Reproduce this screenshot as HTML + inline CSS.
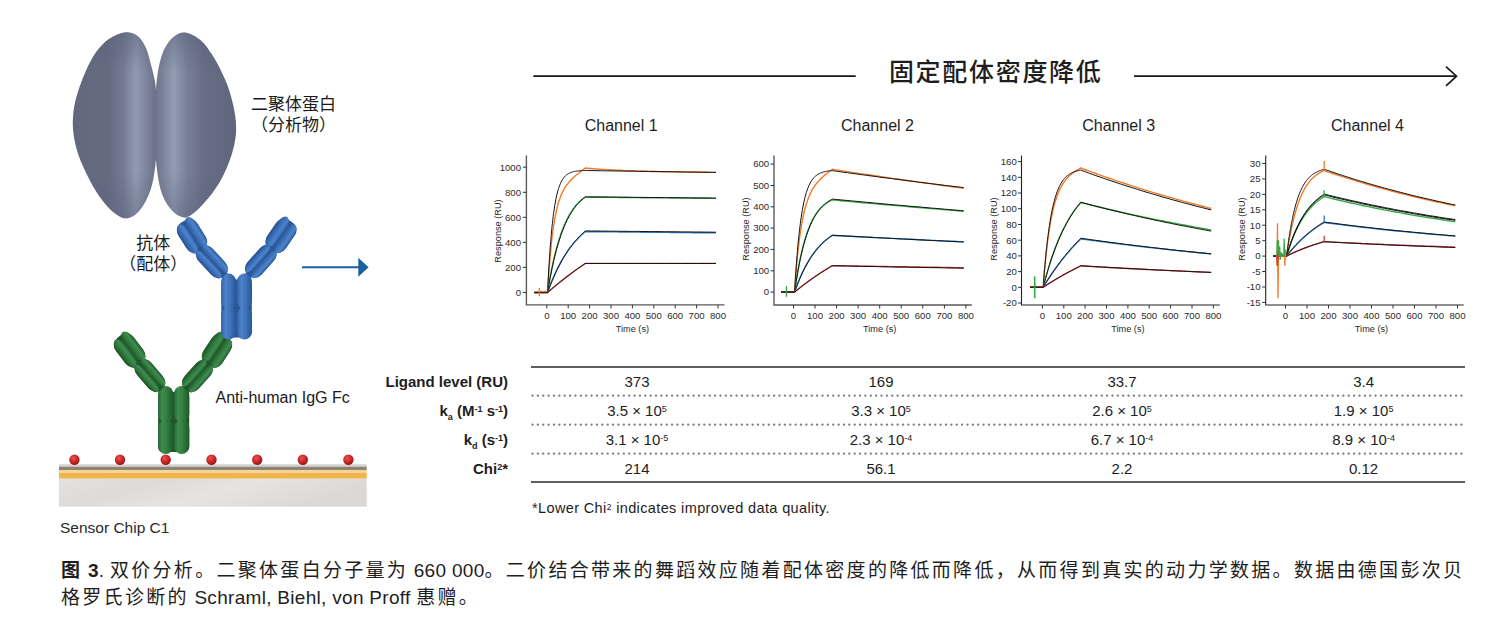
<!DOCTYPE html>
<html><head><meta charset="utf-8">
<style>
html,body{margin:0;padding:0;background:#fff;}
body{width:1509px;height:628px;overflow:hidden;position:relative;font-family:"Liberation Sans","Noto Sans CJK SC",sans-serif;color:#1e1e1e;}
.a{position:absolute;white-space:nowrap;}
svg text{font-family:"Liberation Sans","Noto Sans CJK SC",sans-serif;}
.tk{font-size:9.6px;fill:#2a2a2a;} .tl{font-size:9.2px;fill:#2a2a2a;}
.cn{font-size:16px;fill:#1e1e1e;}
.cap{font-size:19px;line-height:27.3px;letter-spacing:0.3px;} .cap .c{letter-spacing:2.3px;}
.tv{font-size:15px;line-height:20px;} sup{font-size:9px;vertical-align:top;position:relative;top:-2px;} sub{font-size:9px;}
.cj{font-family:"Liberation Sans","Noto Sans CJK SC",sans-serif;}
</style></head><body>
<svg class="a" style="left:0;top:0" width="1509" height="628" viewBox="0 0 1509 628">
<defs>
<linearGradient id="vsh" x1="0" y1="32" x2="0" y2="218" gradientUnits="userSpaceOnUse">
  <stop offset="0" stop-color="#5a6078" stop-opacity="0.55"/>
  <stop offset="0.22" stop-color="#5a6078" stop-opacity="0"/>
  <stop offset="0.75" stop-color="#5a6078" stop-opacity="0"/>
  <stop offset="1" stop-color="#5a6078" stop-opacity="0.45"/>
</linearGradient>
<linearGradient id="lobeL" x1="73" y1="0" x2="156" y2="0" gradientUnits="userSpaceOnUse">
  <stop offset="0" stop-color="#62687e"/>
  <stop offset="0.42" stop-color="#656b81"/>
  <stop offset="0.6" stop-color="#737a91"/>
  <stop offset="0.76" stop-color="#909cb4"/>
  <stop offset="0.9" stop-color="#7a8299"/>
  <stop offset="1" stop-color="#686f86"/>
</linearGradient>
<linearGradient id="lobeR" x1="156" y1="0" x2="237" y2="0" gradientUnits="userSpaceOnUse">
  <stop offset="0" stop-color="#6e758b"/>
  <stop offset="0.08" stop-color="#7b839a"/>
  <stop offset="0.22" stop-color="#919db5"/>
  <stop offset="0.4" stop-color="#767e95"/>
  <stop offset="0.6" stop-color="#676d84"/>
  <stop offset="1" stop-color="#5f657a"/>
</linearGradient>
<linearGradient id="bh" x1="0" y1="0" x2="0" y2="1">
  <stop offset="0" stop-color="#2a569a"/>
  <stop offset="0.35" stop-color="#4a82c8"/>
  <stop offset="0.65" stop-color="#3c72ba"/>
  <stop offset="1" stop-color="#26508f"/>
</linearGradient>
<linearGradient id="bv" x1="0" y1="0" x2="1" y2="0">
  <stop offset="0" stop-color="#2a569a"/>
  <stop offset="0.35" stop-color="#4a82c8"/>
  <stop offset="0.65" stop-color="#3c72ba"/>
  <stop offset="1" stop-color="#26508f"/>
</linearGradient>
<linearGradient id="gh" x1="0" y1="0" x2="0" y2="1">
  <stop offset="0" stop-color="#1f5a2c"/>
  <stop offset="0.35" stop-color="#3b8a4a"/>
  <stop offset="0.65" stop-color="#2f7a3e"/>
  <stop offset="1" stop-color="#1c5228"/>
</linearGradient>
<linearGradient id="gv" x1="0" y1="0" x2="1" y2="0">
  <stop offset="0" stop-color="#1f5a2c"/>
  <stop offset="0.35" stop-color="#3b8a4a"/>
  <stop offset="0.65" stop-color="#2f7a3e"/>
  <stop offset="1" stop-color="#1c5228"/>
</linearGradient>
<radialGradient id="rd" cx="0.4" cy="0.35" r="0.65">
  <stop offset="0" stop-color="#e85454"/>
  <stop offset="0.6" stop-color="#c82626"/>
  <stop offset="1" stop-color="#9a1616"/>
</radialGradient>
<linearGradient id="chipb" x1="0" y1="0" x2="1" y2="0.3">
  <stop offset="0" stop-color="#e4e1df"/>
  <stop offset="0.3" stop-color="#dedad8"/>
  <stop offset="0.6" stop-color="#e6e3e1"/>
  <stop offset="1" stop-color="#dcd8d6"/>
</linearGradient>
</defs>
<!-- dimer -->
<path d="M124.80,32.40 C129.07,32.09 133.62,33.23 137.00,35.50 C140.61,37.92 143.29,42.64 145.50,47.00 C147.89,51.72 148.97,57.41 150.50,63.00 C152.16,69.03 153.98,75.72 155.00,82.00 C155.98,88.05 156.30,93.84 156.60,100.00 C156.92,106.48 156.77,113.33 156.80,120.00 C156.83,126.67 156.94,133.51 156.80,140.00 C156.66,146.16 156.48,152.09 156.00,158.00 C155.53,163.76 154.93,169.63 154.00,175.00 C153.15,179.92 152.20,184.62 150.80,189.00 C149.49,193.08 147.86,196.92 146.00,200.50 C144.23,203.90 142.29,207.29 140.00,210.00 C137.91,212.48 135.64,214.92 133.00,216.30 C130.45,217.63 127.35,218.64 124.50,218.30 C121.35,217.93 117.90,215.53 115.00,213.50 C112.06,211.44 109.53,208.75 107.00,206.00 C104.35,203.11 101.94,199.99 99.50,196.50 C96.76,192.58 94.04,188.08 91.50,183.50 C88.79,178.62 86.10,173.11 83.80,168.00 C81.63,163.18 79.59,158.56 78.00,153.70 C76.43,148.89 75.16,144.04 74.30,139.00 C73.41,133.81 72.80,128.49 72.80,123.00 C72.80,117.18 73.40,110.95 74.50,105.00 C75.62,98.95 77.51,92.90 79.50,87.00 C81.50,81.07 83.75,75.29 86.50,69.50 C89.38,63.45 92.56,56.72 96.50,51.50 C100.15,46.66 104.24,42.19 109.00,39.00 C113.69,35.86 119.82,32.77 124.80,32.40 Z" fill="url(#lobeL)"/>
<path d="M184.50,32.60 C189.32,32.75 195.73,36.48 200.30,40.10 C205.11,43.92 208.90,50.10 212.40,55.30 C215.71,60.21 218.34,65.31 220.90,70.40 C223.40,75.37 225.72,80.41 227.60,85.50 C229.44,90.48 230.83,95.53 232.10,100.60 C233.36,105.63 234.53,110.72 235.20,115.80 C235.86,120.82 236.30,125.88 236.10,130.90 C235.90,135.94 235.09,141.02 234.00,146.00 C232.90,151.05 231.31,156.05 229.50,161.00 C227.65,166.05 225.50,171.17 223.00,176.00 C220.50,180.84 217.65,185.52 214.50,190.00 C211.32,194.52 207.47,199.15 204.00,203.00 C200.97,206.36 198.22,209.55 195.00,212.00 C192.02,214.27 188.65,217.05 185.50,217.40 C182.66,217.71 179.58,216.33 177.00,214.80 C174.20,213.14 171.71,210.29 169.50,207.50 C167.17,204.56 165.14,201.12 163.50,197.50 C161.76,193.66 160.56,189.40 159.50,185.00 C158.35,180.27 157.65,175.01 157.00,170.00 C156.35,165.01 155.92,160.36 155.60,155.00 C155.23,148.82 155.17,141.67 155.10,135.00 C155.03,128.33 155.10,121.67 155.20,115.00 C155.30,108.33 155.34,101.58 155.70,95.00 C156.05,88.58 156.44,82.04 157.30,76.00 C158.09,70.41 159.05,65.00 160.50,60.00 C161.84,55.38 163.26,50.90 165.50,47.00 C167.64,43.26 170.25,39.41 173.50,37.00 C176.63,34.68 180.53,32.48 184.50,32.60 Z" fill="url(#lobeR)"/>
<path d="M124.80,32.40 C129.07,32.09 133.62,33.23 137.00,35.50 C140.61,37.92 143.29,42.64 145.50,47.00 C147.89,51.72 148.97,57.41 150.50,63.00 C152.16,69.03 153.98,75.72 155.00,82.00 C155.98,88.05 156.30,93.84 156.60,100.00 C156.92,106.48 156.77,113.33 156.80,120.00 C156.83,126.67 156.94,133.51 156.80,140.00 C156.66,146.16 156.48,152.09 156.00,158.00 C155.53,163.76 154.93,169.63 154.00,175.00 C153.15,179.92 152.20,184.62 150.80,189.00 C149.49,193.08 147.86,196.92 146.00,200.50 C144.23,203.90 142.29,207.29 140.00,210.00 C137.91,212.48 135.64,214.92 133.00,216.30 C130.45,217.63 127.35,218.64 124.50,218.30 C121.35,217.93 117.90,215.53 115.00,213.50 C112.06,211.44 109.53,208.75 107.00,206.00 C104.35,203.11 101.94,199.99 99.50,196.50 C96.76,192.58 94.04,188.08 91.50,183.50 C88.79,178.62 86.10,173.11 83.80,168.00 C81.63,163.18 79.59,158.56 78.00,153.70 C76.43,148.89 75.16,144.04 74.30,139.00 C73.41,133.81 72.80,128.49 72.80,123.00 C72.80,117.18 73.40,110.95 74.50,105.00 C75.62,98.95 77.51,92.90 79.50,87.00 C81.50,81.07 83.75,75.29 86.50,69.50 C89.38,63.45 92.56,56.72 96.50,51.50 C100.15,46.66 104.24,42.19 109.00,39.00 C113.69,35.86 119.82,32.77 124.80,32.40 Z" fill="url(#vsh)"/>
<path d="M184.50,32.60 C189.32,32.75 195.73,36.48 200.30,40.10 C205.11,43.92 208.90,50.10 212.40,55.30 C215.71,60.21 218.34,65.31 220.90,70.40 C223.40,75.37 225.72,80.41 227.60,85.50 C229.44,90.48 230.83,95.53 232.10,100.60 C233.36,105.63 234.53,110.72 235.20,115.80 C235.86,120.82 236.30,125.88 236.10,130.90 C235.90,135.94 235.09,141.02 234.00,146.00 C232.90,151.05 231.31,156.05 229.50,161.00 C227.65,166.05 225.50,171.17 223.00,176.00 C220.50,180.84 217.65,185.52 214.50,190.00 C211.32,194.52 207.47,199.15 204.00,203.00 C200.97,206.36 198.22,209.55 195.00,212.00 C192.02,214.27 188.65,217.05 185.50,217.40 C182.66,217.71 179.58,216.33 177.00,214.80 C174.20,213.14 171.71,210.29 169.50,207.50 C167.17,204.56 165.14,201.12 163.50,197.50 C161.76,193.66 160.56,189.40 159.50,185.00 C158.35,180.27 157.65,175.01 157.00,170.00 C156.35,165.01 155.92,160.36 155.60,155.00 C155.23,148.82 155.17,141.67 155.10,135.00 C155.03,128.33 155.10,121.67 155.20,115.00 C155.30,108.33 155.34,101.58 155.70,95.00 C156.05,88.58 156.44,82.04 157.30,76.00 C158.09,70.41 159.05,65.00 160.50,60.00 C161.84,55.38 163.26,50.90 165.50,47.00 C167.64,43.26 170.25,39.41 173.50,37.00 C176.63,34.68 180.53,32.48 184.50,32.60 Z" fill="url(#vsh)"/>
<!-- chip -->
<rect x="59" y="464.3" width="307.7" height="2.4" fill="#d4d2d0"/>
<rect x="59" y="466.7" width="307.7" height="3.3" fill="#8e8474"/>
<rect x="59" y="470" width="307.7" height="2.9" fill="#f6d49a"/>
<rect x="59" y="472.9" width="307.7" height="5.8" fill="#f0b448"/>
<rect x="59" y="478.7" width="307.7" height="28" fill="url(#chipb)"/>
<!-- antibodies -->
<linearGradient id="gah" x1="0" y1="0" x2="0" y2="1"><stop offset="0" stop-color="#2a6637"/><stop offset="0.3" stop-color="#3e8d4d"/><stop offset="0.62" stop-color="#2f7a3e"/><stop offset="1" stop-color="#205829"/></linearGradient>
<linearGradient id="gav" x1="0" y1="0" x2="1" y2="0"><stop offset="0" stop-color="#2a6637"/><stop offset="0.3" stop-color="#3e8d4d"/><stop offset="0.62" stop-color="#2f7a3e"/><stop offset="1" stop-color="#205829"/></linearGradient>
<line x1="139.2" y1="363.1" x2="164.0" y2="392.0" stroke="#21562b" stroke-width="7" stroke-linecap="round"/>
<line x1="208.5" y1="363.7" x2="183.0" y2="392.0" stroke="#21562b" stroke-width="7" stroke-linecap="round"/>
<rect x="158.1" y="392" width="31.099999999999994" height="60.10000000000002" rx="5" fill="#21562b"/>
<rect x="158.0" y="386.0" width="15.2" height="36.0" rx="7.6" ry="8" fill="url(#gav)"/>
<rect x="158.0" y="420.0" width="15.2" height="34.1" rx="7.6" ry="8" fill="url(#gav)"/>
<rect x="174.0" y="386.0" width="15.3" height="36.0" rx="7.6" ry="8" fill="url(#gav)"/>
<rect x="174.0" y="420.0" width="15.3" height="34.1" rx="7.6" ry="8" fill="url(#gav)"/>
<g transform="translate(120.0,337.7) rotate(52.9)">
<rect x="-1.5" y="-11.3" width="34.8" height="22.6" rx="9.5" ry="8.6" fill="#21562b"/>
<rect x="-3.0" y="-10.6" width="35.8" height="10.3" rx="9.5" ry="5.4" fill="url(#gah)"/>
<rect x="-1.0" y="0.2" width="33.8" height="10.3" rx="9.5" ry="5.4" fill="url(#gah)"/>
</g>
<g transform="translate(139.2,363.1) rotate(49.4)">
<rect x="-1.5" y="-9.5" width="35.8" height="19.0" rx="9.5" ry="7.2" fill="#21562b"/>
<rect x="-1.0" y="-8.8" width="34.8" height="8.5" rx="9.5" ry="4.5" fill="url(#gah)"/>
<rect x="-1.0" y="0.2" width="34.8" height="8.5" rx="9.5" ry="4.5" fill="url(#gah)"/>
</g>
<g transform="translate(225.5,337.7) rotate(123.2)">
<rect x="-1.5" y="-11.3" width="34.1" height="22.6" rx="9.5" ry="8.6" fill="#21562b"/>
<rect x="-1.0" y="-10.6" width="33.1" height="10.3" rx="9.5" ry="5.4" fill="url(#gah)"/>
<rect x="-3.0" y="0.2" width="35.1" height="10.3" rx="9.5" ry="5.4" fill="url(#gah)"/>
</g>
<g transform="translate(208.5,363.7) rotate(132.0)">
<rect x="-1.5" y="-9.5" width="35.8" height="19.0" rx="9.5" ry="7.2" fill="#21562b"/>
<rect x="-1.0" y="-8.8" width="34.8" height="8.5" rx="9.5" ry="4.5" fill="url(#gah)"/>
<rect x="-1.0" y="0.2" width="34.8" height="8.5" rx="9.5" ry="4.5" fill="url(#gah)"/>
</g>
<linearGradient id="bah" x1="0" y1="0" x2="0" y2="1"><stop offset="0" stop-color="#3262a8"/><stop offset="0.3" stop-color="#4c83ca"/><stop offset="0.62" stop-color="#3c71b9"/><stop offset="1" stop-color="#2b5697"/></linearGradient>
<linearGradient id="bav" x1="0" y1="0" x2="1" y2="0"><stop offset="0" stop-color="#3262a8"/><stop offset="0.3" stop-color="#4c83ca"/><stop offset="0.62" stop-color="#3c71b9"/><stop offset="1" stop-color="#2b5697"/></linearGradient>
<line x1="200.4" y1="249.3" x2="227.0" y2="278.0" stroke="#2b5696" stroke-width="7" stroke-linecap="round"/>
<line x1="272.0" y1="248.8" x2="246.0" y2="278.0" stroke="#2b5696" stroke-width="7" stroke-linecap="round"/>
<rect x="221.3" y="279.6" width="30.5" height="57.89999999999998" rx="5" fill="#2b5696"/>
<rect x="221.2" y="273.6" width="14.9" height="35.4" rx="7.4" ry="8" fill="url(#bav)"/>
<rect x="221.2" y="307.0" width="14.9" height="32.5" rx="7.4" ry="8" fill="url(#bav)"/>
<rect x="236.9" y="273.6" width="15.0" height="35.4" rx="7.5" ry="8" fill="url(#bav)"/>
<rect x="236.9" y="307.0" width="15.0" height="32.5" rx="7.5" ry="8" fill="url(#bav)"/>
<g transform="translate(183.7,222.9) rotate(57.7)">
<rect x="-1.5" y="-11.3" width="34.2" height="22.6" rx="9.5" ry="8.6" fill="#2b5696"/>
<rect x="-3.0" y="-10.6" width="35.2" height="10.3" rx="9.5" ry="5.4" fill="url(#bah)"/>
<rect x="-1.0" y="0.2" width="33.2" height="10.3" rx="9.5" ry="5.4" fill="url(#bah)"/>
</g>
<g transform="translate(200.4,249.3) rotate(47.2)">
<rect x="-1.5" y="-9.5" width="36.7" height="19.0" rx="9.5" ry="7.2" fill="#2b5696"/>
<rect x="-1.0" y="-8.8" width="35.7" height="8.5" rx="9.5" ry="4.5" fill="url(#bah)"/>
<rect x="-1.0" y="0.2" width="35.7" height="8.5" rx="9.5" ry="4.5" fill="url(#bah)"/>
</g>
<g transform="translate(290.0,222.6) rotate(124.5)">
<rect x="-1.5" y="-11.3" width="34.8" height="22.6" rx="9.5" ry="8.6" fill="#2b5696"/>
<rect x="-1.0" y="-10.6" width="33.8" height="10.3" rx="9.5" ry="5.4" fill="url(#bah)"/>
<rect x="-3.0" y="0.2" width="35.8" height="10.3" rx="9.5" ry="5.4" fill="url(#bah)"/>
</g>
<g transform="translate(272.0,248.8) rotate(131.7)">
<rect x="-1.5" y="-9.5" width="36.6" height="19.0" rx="9.5" ry="7.2" fill="#2b5696"/>
<rect x="-1.0" y="-8.8" width="35.6" height="8.5" rx="9.5" ry="4.5" fill="url(#bah)"/>
<rect x="-1.0" y="0.2" width="35.6" height="8.5" rx="9.5" ry="4.5" fill="url(#bah)"/>
</g>
<!-- red dots -->
<g fill="url(#rd)">
<circle cx="74.4" cy="459.7" r="5.2"/><circle cx="120" cy="459.7" r="5.2"/><circle cx="165.7" cy="459.7" r="5.2"/>
<circle cx="211.5" cy="459.7" r="5.2"/><circle cx="257.2" cy="459.7" r="5.2"/><circle cx="302.8" cy="459.7" r="5.2"/>
<circle cx="348.4" cy="459.7" r="5.2"/>
</g>
<!-- blue arrow -->
<line x1="302" y1="267.3" x2="359" y2="267.3" stroke="#1b5f9f" stroke-width="1.9"/>
<polygon points="358.3,257.8 368.6,267.3 358.3,276.8" fill="#1b5f9f"/>
<!-- labels -->
<text x="293.4" y="109.5" text-anchor="middle" style="font-size:17px;fill:#1a1a1a;font-family:'Noto Sans CJK SC',sans-serif">二聚体蛋白</text>
<text x="293.4" y="130.5" text-anchor="middle" style="font-size:17px;fill:#1a1a1a;font-family:'Noto Sans CJK SC',sans-serif">（分析物）</text>
<text x="153.2" y="248.5" text-anchor="middle" style="font-size:17px;fill:#1a1a1a;font-family:'Noto Sans CJK SC',sans-serif">抗体</text>
<text x="153.2" y="269.5" text-anchor="middle" style="font-size:17px;fill:#1a1a1a;font-family:'Noto Sans CJK SC',sans-serif">（配体）</text>
<text x="215.5" y="402.5" style="font-size:16px;fill:#1a1a1a">Anti-human IgG Fc</text>
<text x="60" y="532.6" style="font-size:15.5px;fill:#2a2a2a">Sensor Chip C1</text>

<!-- header arrow -->
<line x1="534" y1="76.2" x2="855" y2="76.2" stroke="#1a1a1a" stroke-width="1.7" stroke-linecap="round"/>
<line x1="1134" y1="76.2" x2="1456" y2="76.2" stroke="#1a1a1a" stroke-width="1.7"/>
<polyline points="1446,66.6 1456.5,76.2 1446,85.8" fill="none" stroke="#1a1a1a" stroke-width="1.7"/>
<text x="995.7" y="81" text-anchor="middle" style="font-family:'Noto Sans CJK SC',sans-serif;font-size:25px;letter-spacing:1.7px;font-weight:500;fill:#1e1e1e;">固定配体密度降低</text>
<g fill="#8a8a8a"><line x1="532.5" y1="395.6" x2="1464.5" y2="395.6" stroke="#7e7e7e" stroke-width="2.4" stroke-linecap="round" stroke-dasharray="0 5.37"/>
<line x1="532.5" y1="424.6" x2="1464.5" y2="424.6" stroke="#7e7e7e" stroke-width="2.4" stroke-linecap="round" stroke-dasharray="0 5.37"/>
<line x1="532.5" y1="453.6" x2="1464.5" y2="453.6" stroke="#7e7e7e" stroke-width="2.4" stroke-linecap="round" stroke-dasharray="0 5.37"/></g>
<text x="621.2" y="130.9" text-anchor="middle" class="cn">Channel 1</text>
<text x="877.5" y="130.9" text-anchor="middle" class="cn">Channel 2</text>
<text x="1118.7" y="130.9" text-anchor="middle" class="cn">Channel 3</text>
<text x="1367.5" y="130.9" text-anchor="middle" class="cn">Channel 4</text>
<path d="M534.4,292.5 L547.5,292.5 L547.7,290.7 L547.9,287.2 L548.1,283.7 L548.3,280.4 L548.5,277.2 L548.7,274.2 L548.9,271.2 L549.2,268.3 L549.4,265.5 L549.6,262.8 L549.8,260.2 L550.0,257.7 L550.2,255.3 L550.4,252.9 L550.7,250.7 L550.9,248.5 L551.1,246.3 L551.3,244.3 L551.5,242.3 L551.7,240.4 L551.9,238.5 L552.1,236.7 L552.4,234.9 L552.6,233.3 L552.8,231.6 L553.0,230.0 L553.2,228.5 L553.4,227.0 L553.6,225.6 L553.9,224.2 L554.1,222.9 L554.7,219.1 L555.4,215.6 L556.0,212.4 L556.6,209.6 L557.3,206.9 L557.9,204.5 L558.6,202.3 L559.2,200.3 L559.9,198.4 L560.5,196.7 L561.1,195.1 L561.8,193.6 L562.4,192.2 L563.1,190.9 L563.7,189.7 L564.3,188.6 L565.0,187.5 L565.6,186.6 L566.3,185.6 L566.9,184.7 L567.6,183.9 L568.2,183.1 L568.8,182.3 L569.5,181.5 L570.1,180.8 L570.8,180.1 L571.4,179.5 L572.1,178.8 L572.7,178.2 L573.3,177.6 L574.0,177.0 L574.6,176.4 L575.3,175.9 L575.9,175.3 L576.5,174.8 L577.2,174.3 L577.8,173.7 L578.5,173.2 L579.1,172.7 L579.8,172.2 L580.4,171.7 L581.0,171.2 L581.7,170.7 L582.3,170.2 L583.0,169.8 L583.6,169.3 L584.2,168.8 L584.9,168.4 L585.3,168.0 L587.5,168.2 L590.7,168.5 L593.9,168.8 L597.1,169.0 L600.3,169.2 L603.5,169.4 L606.7,169.6 L609.9,169.8 L613.1,170.0 L616.3,170.2 L619.6,170.3 L622.8,170.5 L626.0,170.6 L629.2,170.7 L632.4,170.8 L635.6,171.0 L638.8,171.1 L642.0,171.2 L645.2,171.3 L648.4,171.4 L651.7,171.5 L654.9,171.5 L658.1,171.6 L661.3,171.7 L664.5,171.7 L667.7,171.8 L670.9,171.9 L674.1,171.9 L677.3,172.0 L680.5,172.0 L683.8,172.1 L687.0,172.1 L690.2,172.2 L693.4,172.2 L696.6,172.2 L699.8,172.3 L703.0,172.3 L706.2,172.3 L709.4,172.4 L712.6,172.4 L715.9,172.4 L715.9,172.4" fill="none" stroke="#f07a2a" stroke-width="1.4" stroke-linejoin="round"/>
<path d="M534.4,292.5 L547.5,292.5 L547.7,290.3 L547.9,285.9 L548.1,281.7 L548.3,277.7 L548.5,273.8 L548.7,270.0 L548.9,266.4 L549.2,262.9 L549.4,259.5 L549.6,256.3 L549.8,253.2 L550.0,250.2 L550.2,247.3 L550.4,244.5 L550.7,241.8 L550.9,239.2 L551.1,236.7 L551.3,234.3 L551.5,231.9 L551.7,229.7 L551.9,227.6 L552.1,225.5 L552.4,223.5 L552.6,221.5 L552.8,219.7 L553.0,217.9 L553.2,216.2 L553.4,214.5 L553.6,212.9 L553.9,211.3 L554.1,209.9 L554.7,205.7 L555.4,202.0 L556.0,198.7 L556.6,195.7 L557.3,193.0 L557.9,190.6 L558.6,188.5 L559.2,186.6 L559.9,184.9 L560.5,183.4 L561.1,182.0 L561.8,180.8 L562.4,179.7 L563.1,178.7 L563.7,177.8 L564.3,177.0 L565.0,176.3 L565.6,175.7 L566.3,175.1 L566.9,174.6 L567.6,174.2 L568.2,173.8 L568.8,173.4 L569.5,173.1 L570.1,172.8 L570.8,172.5 L571.4,172.3 L572.1,172.1 L572.7,171.9 L573.3,171.7 L574.0,171.6 L574.6,171.5 L575.3,171.3 L575.9,171.2 L576.5,171.1 L577.2,171.1 L577.8,171.0 L578.5,170.9 L579.1,170.9 L579.8,170.8 L580.4,170.7 L581.0,170.7 L581.7,170.7 L582.3,170.6 L583.0,170.6 L583.6,170.6 L584.2,170.5 L584.9,170.5 L585.3,170.5 L587.5,170.5 L590.7,170.6 L593.9,170.6 L597.1,170.7 L600.3,170.7 L603.5,170.8 L606.7,170.8 L609.9,170.9 L613.1,170.9 L616.3,171.0 L619.6,171.0 L622.8,171.0 L626.0,171.1 L629.2,171.1 L632.4,171.2 L635.6,171.2 L638.8,171.3 L642.0,171.3 L645.2,171.4 L648.4,171.4 L651.7,171.5 L654.9,171.5 L658.1,171.5 L661.3,171.6 L664.5,171.6 L667.7,171.7 L670.9,171.7 L674.1,171.8 L677.3,171.8 L680.5,171.9 L683.8,171.9 L687.0,172.0 L690.2,172.0 L693.4,172.0 L696.6,172.1 L699.8,172.1 L703.0,172.2 L706.2,172.2 L709.4,172.3 L712.6,172.3 L715.9,172.4 L715.9,172.4" fill="none" stroke="#111" stroke-width="1.0" stroke-linejoin="round"/>
<path d="M534.4,292.5 L547.5,292.5 L547.7,291.8 L547.9,290.5 L548.1,289.1 L548.3,287.8 L548.5,286.5 L548.7,285.3 L548.9,284.0 L549.2,282.8 L549.4,281.5 L549.6,280.3 L549.8,279.1 L550.0,277.9 L550.2,276.8 L550.4,275.6 L550.7,274.5 L550.9,273.3 L551.1,272.2 L551.3,271.1 L551.5,270.0 L551.7,269.0 L551.9,267.9 L552.1,266.9 L552.4,265.8 L552.6,264.8 L552.8,263.8 L553.0,262.8 L553.2,261.9 L553.4,260.9 L553.6,259.9 L553.9,259.0 L554.1,258.1 L554.7,255.4 L555.4,252.7 L556.0,250.2 L556.6,247.8 L557.3,245.5 L557.9,243.2 L558.6,241.1 L559.2,239.0 L559.9,237.0 L560.5,235.1 L561.1,233.2 L561.8,231.5 L562.4,229.7 L563.1,228.1 L563.7,226.5 L564.3,225.0 L565.0,223.5 L565.6,222.1 L566.3,220.7 L566.9,219.4 L567.6,218.2 L568.2,217.0 L568.8,215.8 L569.5,214.7 L570.1,213.6 L570.8,212.6 L571.4,211.6 L572.1,210.6 L572.7,209.7 L573.3,208.8 L574.0,207.9 L574.6,207.1 L575.3,206.3 L575.9,205.5 L576.5,204.8 L577.2,204.1 L577.8,203.4 L578.5,202.7 L579.1,202.1 L579.8,201.5 L580.4,200.9 L581.0,200.4 L581.7,199.8 L582.3,199.3 L583.0,198.8 L583.6,198.3 L584.2,197.9 L584.9,197.4 L585.3,197.1 L587.5,197.1 L590.7,197.2 L593.9,197.2 L597.1,197.2 L600.3,197.3 L603.5,197.3 L606.7,197.3 L609.9,197.4 L613.1,197.4 L616.3,197.4 L619.6,197.5 L622.8,197.5 L626.0,197.5 L629.2,197.5 L632.4,197.6 L635.6,197.6 L638.8,197.6 L642.0,197.7 L645.2,197.7 L648.4,197.7 L651.7,197.8 L654.9,197.8 L658.1,197.8 L661.3,197.9 L664.5,197.9 L667.7,197.9 L670.9,198.0 L674.1,198.0 L677.3,198.0 L680.5,198.0 L683.8,198.1 L687.0,198.1 L690.2,198.1 L693.4,198.2 L696.6,198.2 L699.8,198.2 L703.0,198.3 L706.2,198.3 L709.4,198.3 L712.6,198.4 L715.9,198.4 L715.9,198.4" fill="none" stroke="#3aa845" stroke-width="1.4" stroke-linejoin="round"/>
<path d="M534.4,292.5 L547.5,292.5 L547.7,291.9 L547.9,290.6 L548.1,289.3 L548.3,288.1 L548.5,286.8 L548.7,285.6 L548.9,284.4 L549.2,283.2 L549.4,282.0 L549.6,280.8 L549.8,279.7 L550.0,278.6 L550.2,277.4 L550.4,276.3 L550.7,275.2 L550.9,274.1 L551.1,273.1 L551.3,272.0 L551.5,271.0 L551.7,269.9 L551.9,268.9 L552.1,267.9 L552.4,266.9 L552.6,265.9 L552.8,264.9 L553.0,264.0 L553.2,263.0 L553.4,262.1 L553.6,261.1 L553.9,260.2 L554.1,259.3 L554.7,256.7 L555.4,254.1 L556.0,251.6 L556.6,249.2 L557.3,246.9 L557.9,244.7 L558.6,242.6 L559.2,240.5 L559.9,238.5 L560.5,236.6 L561.1,234.7 L561.8,232.9 L562.4,231.2 L563.1,229.5 L563.7,227.9 L564.3,226.3 L565.0,224.8 L565.6,223.4 L566.3,222.0 L566.9,220.6 L567.6,219.3 L568.2,218.1 L568.8,216.9 L569.5,215.7 L570.1,214.6 L570.8,213.5 L571.4,212.4 L572.1,211.4 L572.7,210.4 L573.3,209.5 L574.0,208.6 L574.6,207.7 L575.3,206.8 L575.9,206.0 L576.5,205.2 L577.2,204.5 L577.8,203.7 L578.5,203.0 L579.1,202.3 L579.8,201.7 L580.4,201.0 L581.0,200.4 L581.7,199.8 L582.3,199.3 L583.0,198.7 L583.6,198.2 L584.2,197.7 L584.9,197.2 L585.3,196.8 L587.5,196.9 L590.7,196.9 L593.9,196.9 L597.1,196.9 L600.3,197.0 L603.5,197.0 L606.7,197.0 L609.9,197.1 L613.1,197.1 L616.3,197.1 L619.6,197.2 L622.8,197.2 L626.0,197.2 L629.2,197.3 L632.4,197.3 L635.6,197.3 L638.8,197.4 L642.0,197.4 L645.2,197.4 L648.4,197.5 L651.7,197.5 L654.9,197.5 L658.1,197.5 L661.3,197.6 L664.5,197.6 L667.7,197.6 L670.9,197.7 L674.1,197.7 L677.3,197.7 L680.5,197.8 L683.8,197.8 L687.0,197.8 L690.2,197.9 L693.4,197.9 L696.6,197.9 L699.8,198.0 L703.0,198.0 L706.2,198.0 L709.4,198.0 L712.6,198.1 L715.9,198.1 L715.9,198.1" fill="none" stroke="#111" stroke-width="1.0" stroke-linejoin="round"/>
<path d="M534.4,292.5 L547.5,292.5 L547.7,292.2 L547.9,291.6 L548.1,291.0 L548.3,290.4 L548.5,289.8 L548.7,289.2 L548.9,288.7 L549.2,288.1 L549.4,287.5 L549.6,286.9 L549.8,286.4 L550.0,285.8 L550.2,285.3 L550.4,284.7 L550.7,284.2 L550.9,283.6 L551.1,283.1 L551.3,282.5 L551.5,282.0 L551.7,281.5 L551.9,281.0 L552.1,280.4 L552.4,279.9 L552.6,279.4 L552.8,278.9 L553.0,278.4 L553.2,277.9 L553.4,277.4 L553.6,276.9 L553.9,276.4 L554.1,275.9 L554.7,274.5 L555.4,273.0 L556.0,271.7 L556.6,270.3 L557.3,269.0 L557.9,267.7 L558.6,266.4 L559.2,265.2 L559.9,263.9 L560.5,262.7 L561.1,261.6 L561.8,260.4 L562.4,259.3 L563.1,258.2 L563.7,257.1 L564.3,256.1 L565.0,255.1 L565.6,254.1 L566.3,253.1 L566.9,252.1 L567.6,251.2 L568.2,250.2 L568.8,249.3 L569.5,248.4 L570.1,247.6 L570.8,246.7 L571.4,245.9 L572.1,245.1 L572.7,244.3 L573.3,243.5 L574.0,242.7 L574.6,242.0 L575.3,241.3 L575.9,240.6 L576.5,239.9 L577.2,239.2 L577.8,238.5 L578.5,237.8 L579.1,237.2 L579.8,236.6 L580.4,235.9 L581.0,235.3 L581.7,234.8 L582.3,234.2 L583.0,233.6 L583.6,233.1 L584.2,232.5 L584.9,232.0 L585.3,231.6 L587.5,231.7 L590.7,231.7 L593.9,231.7 L597.1,231.7 L600.3,231.8 L603.5,231.8 L606.7,231.8 L609.9,231.9 L613.1,231.9 L616.3,231.9 L619.6,232.0 L622.8,232.0 L626.0,232.0 L629.2,232.1 L632.4,232.1 L635.6,232.1 L638.8,232.1 L642.0,232.2 L645.2,232.2 L648.4,232.2 L651.7,232.3 L654.9,232.3 L658.1,232.3 L661.3,232.4 L664.5,232.4 L667.7,232.4 L670.9,232.5 L674.1,232.5 L677.3,232.5 L680.5,232.5 L683.8,232.6 L687.0,232.6 L690.2,232.6 L693.4,232.7 L696.6,232.7 L699.8,232.7 L703.0,232.8 L706.2,232.8 L709.4,232.8 L712.6,232.8 L715.9,232.9 L715.9,232.9" fill="none" stroke="#2f7cc4" stroke-width="1.4" stroke-linejoin="round"/>
<path d="M534.4,292.5 L547.5,292.5 L547.7,292.2 L547.9,291.6 L548.1,291.0 L548.3,290.5 L548.5,289.9 L548.7,289.3 L548.9,288.8 L549.2,288.2 L549.4,287.7 L549.6,287.1 L549.8,286.5 L550.0,286.0 L550.2,285.5 L550.4,284.9 L550.7,284.4 L550.9,283.9 L551.1,283.3 L551.3,282.8 L551.5,282.3 L551.7,281.8 L551.9,281.2 L552.1,280.7 L552.4,280.2 L552.6,279.7 L552.8,279.2 L553.0,278.7 L553.2,278.2 L553.4,277.7 L553.6,277.2 L553.9,276.8 L554.1,276.3 L554.7,274.8 L555.4,273.4 L556.0,272.1 L556.6,270.7 L557.3,269.4 L557.9,268.1 L558.6,266.8 L559.2,265.6 L559.9,264.4 L560.5,263.2 L561.1,262.0 L561.8,260.8 L562.4,259.7 L563.1,258.6 L563.7,257.5 L564.3,256.4 L565.0,255.4 L565.6,254.4 L566.3,253.4 L566.9,252.4 L567.6,251.4 L568.2,250.5 L568.8,249.5 L569.5,248.6 L570.1,247.7 L570.8,246.8 L571.4,246.0 L572.1,245.1 L572.7,244.3 L573.3,243.5 L574.0,242.7 L574.6,241.9 L575.3,241.2 L575.9,240.4 L576.5,239.7 L577.2,239.0 L577.8,238.2 L578.5,237.6 L579.1,236.9 L579.8,236.2 L580.4,235.5 L581.0,234.9 L581.7,234.3 L582.3,233.7 L583.0,233.1 L583.6,232.5 L584.2,231.9 L584.9,231.3 L585.3,230.9 L587.5,230.9 L590.7,231.0 L593.9,231.0 L597.1,231.0 L600.3,231.1 L603.5,231.1 L606.7,231.1 L609.9,231.2 L613.1,231.2 L616.3,231.2 L619.6,231.3 L622.8,231.3 L626.0,231.3 L629.2,231.4 L632.4,231.4 L635.6,231.4 L638.8,231.4 L642.0,231.5 L645.2,231.5 L648.4,231.5 L651.7,231.6 L654.9,231.6 L658.1,231.6 L661.3,231.7 L664.5,231.7 L667.7,231.7 L670.9,231.8 L674.1,231.8 L677.3,231.8 L680.5,231.9 L683.8,231.9 L687.0,231.9 L690.2,231.9 L693.4,232.0 L696.6,232.0 L699.8,232.0 L703.0,232.1 L706.2,232.1 L709.4,232.1 L712.6,232.2 L715.9,232.2 L715.9,232.2" fill="none" stroke="#111" stroke-width="1.0" stroke-linejoin="round"/>
<path d="M534.4,292.5 L547.5,292.5 L547.7,292.4 L547.9,292.2 L548.1,292.0 L548.3,291.8 L548.5,291.7 L548.7,291.5 L548.9,291.3 L549.2,291.1 L549.4,290.9 L549.6,290.7 L549.8,290.5 L550.0,290.4 L550.2,290.2 L550.4,290.0 L550.7,289.8 L550.9,289.6 L551.1,289.4 L551.3,289.3 L551.5,289.1 L551.7,288.9 L551.9,288.7 L552.1,288.5 L552.4,288.3 L552.6,288.2 L552.8,288.0 L553.0,287.8 L553.2,287.6 L553.4,287.4 L553.6,287.3 L553.9,287.1 L554.1,286.9 L554.7,286.4 L555.4,285.8 L556.0,285.3 L556.6,284.8 L557.3,284.2 L557.9,283.7 L558.6,283.2 L559.2,282.7 L559.9,282.1 L560.5,281.6 L561.1,281.1 L561.8,280.6 L562.4,280.1 L563.1,279.6 L563.7,279.1 L564.3,278.6 L565.0,278.1 L565.6,277.6 L566.3,277.1 L566.9,276.6 L567.6,276.1 L568.2,275.6 L568.8,275.1 L569.5,274.6 L570.1,274.2 L570.8,273.7 L571.4,273.2 L572.1,272.7 L572.7,272.3 L573.3,271.8 L574.0,271.3 L574.6,270.8 L575.3,270.4 L575.9,269.9 L576.5,269.5 L577.2,269.0 L577.8,268.5 L578.5,268.1 L579.1,267.6 L579.8,267.2 L580.4,266.7 L581.0,266.3 L581.7,265.8 L582.3,265.4 L583.0,265.0 L583.6,264.5 L584.2,264.1 L584.9,263.6 L585.3,263.4 L587.5,263.4 L590.7,263.4 L593.9,263.4 L597.1,263.4 L600.3,263.4 L603.5,263.4 L606.7,263.4 L609.9,263.4 L613.1,263.4 L616.3,263.4 L619.6,263.4 L622.8,263.4 L626.0,263.4 L629.2,263.4 L632.4,263.4 L635.6,263.4 L638.8,263.4 L642.0,263.4 L645.2,263.4 L648.4,263.4 L651.7,263.4 L654.9,263.4 L658.1,263.4 L661.3,263.4 L664.5,263.4 L667.7,263.4 L670.9,263.4 L674.1,263.4 L677.3,263.4 L680.5,263.4 L683.8,263.4 L687.0,263.4 L690.2,263.4 L693.4,263.4 L696.6,263.4 L699.8,263.4 L703.0,263.4 L706.2,263.4 L709.4,263.4 L712.6,263.4 L715.9,263.4 L715.9,263.4" fill="none" stroke="#d8383a" stroke-width="1.4" stroke-linejoin="round"/>
<path d="M534.4,292.5 L547.5,292.5 L547.7,292.4 L547.9,292.2 L548.1,292.0 L548.3,291.8 L548.5,291.7 L548.7,291.5 L548.9,291.3 L549.2,291.1 L549.4,290.9 L549.6,290.7 L549.8,290.6 L550.0,290.4 L550.2,290.2 L550.4,290.0 L550.7,289.8 L550.9,289.6 L551.1,289.5 L551.3,289.3 L551.5,289.1 L551.7,288.9 L551.9,288.7 L552.1,288.5 L552.4,288.4 L552.6,288.2 L552.8,288.0 L553.0,287.8 L553.2,287.6 L553.4,287.5 L553.6,287.3 L553.9,287.1 L554.1,286.9 L554.7,286.4 L555.4,285.9 L556.0,285.3 L556.6,284.8 L557.3,284.3 L557.9,283.8 L558.6,283.2 L559.2,282.7 L559.9,282.2 L560.5,281.7 L561.1,281.2 L561.8,280.7 L562.4,280.2 L563.1,279.7 L563.7,279.2 L564.3,278.7 L565.0,278.2 L565.6,277.7 L566.3,277.2 L566.9,276.7 L567.6,276.2 L568.2,275.7 L568.8,275.2 L569.5,274.8 L570.1,274.3 L570.8,273.8 L571.4,273.3 L572.1,272.8 L572.7,272.4 L573.3,271.9 L574.0,271.4 L574.6,271.0 L575.3,270.5 L575.9,270.1 L576.5,269.6 L577.2,269.1 L577.8,268.7 L578.5,268.2 L579.1,267.8 L579.8,267.3 L580.4,266.9 L581.0,266.4 L581.7,266.0 L582.3,265.6 L583.0,265.1 L583.6,264.7 L584.2,264.2 L584.9,263.8 L585.3,263.5 L587.5,263.5 L590.7,263.5 L593.9,263.5 L597.1,263.5 L600.3,263.5 L603.5,263.5 L606.7,263.5 L609.9,263.5 L613.1,263.5 L616.3,263.5 L619.6,263.5 L622.8,263.5 L626.0,263.5 L629.2,263.5 L632.4,263.5 L635.6,263.5 L638.8,263.5 L642.0,263.5 L645.2,263.5 L648.4,263.5 L651.7,263.5 L654.9,263.5 L658.1,263.5 L661.3,263.5 L664.5,263.5 L667.7,263.5 L670.9,263.5 L674.1,263.5 L677.3,263.5 L680.5,263.5 L683.8,263.5 L687.0,263.5 L690.2,263.5 L693.4,263.5 L696.6,263.5 L699.8,263.5 L703.0,263.5 L706.2,263.5 L709.4,263.5 L712.6,263.5 L715.9,263.5 L715.9,263.5" fill="none" stroke="#111" stroke-width="1.0" stroke-linejoin="round"/>
<path d="M539.3,296.3 L539.3,288.1" fill="none" stroke="#f07a2a" stroke-width="1.3" stroke-linejoin="round"/>
<path d="M539.3,291.5 L546.8,291.5" fill="none" stroke="#f07a2a" stroke-width="1.3" stroke-linejoin="round"/>
<path d="M526.4,155.6 L526.4,304.9 L724.5,304.9" fill="none" stroke="#5a5a5a" stroke-width="1.4"/>
<line x1="522.9" y1="292.5" x2="526.4" y2="292.5" stroke="#333" stroke-width="1"/>
<text x="521.0" y="295.8" text-anchor="end" class="tk">0</text>
<line x1="522.9" y1="267.4" x2="526.4" y2="267.4" stroke="#333" stroke-width="1"/>
<text x="521.0" y="270.7" text-anchor="end" class="tk">200</text>
<line x1="522.9" y1="242.4" x2="526.4" y2="242.4" stroke="#333" stroke-width="1"/>
<text x="521.0" y="245.7" text-anchor="end" class="tk">400</text>
<line x1="522.9" y1="217.3" x2="526.4" y2="217.3" stroke="#333" stroke-width="1"/>
<text x="521.0" y="220.6" text-anchor="end" class="tk">600</text>
<line x1="522.9" y1="192.3" x2="526.4" y2="192.3" stroke="#333" stroke-width="1"/>
<text x="521.0" y="195.6" text-anchor="end" class="tk">800</text>
<line x1="522.9" y1="167.2" x2="526.4" y2="167.2" stroke="#333" stroke-width="1"/>
<text x="521.0" y="170.5" text-anchor="end" class="tk">1000</text>
<line x1="546.8" y1="304.9" x2="546.8" y2="308.4" stroke="#333" stroke-width="1"/>
<text x="546.8" y="318.9" text-anchor="middle" class="tk">0</text>
<line x1="568.2" y1="304.9" x2="568.2" y2="308.4" stroke="#333" stroke-width="1"/>
<text x="568.2" y="318.9" text-anchor="middle" class="tk">100</text>
<line x1="589.6" y1="304.9" x2="589.6" y2="308.4" stroke="#333" stroke-width="1"/>
<text x="589.6" y="318.9" text-anchor="middle" class="tk">200</text>
<line x1="611.0" y1="304.9" x2="611.0" y2="308.4" stroke="#333" stroke-width="1"/>
<text x="611.0" y="318.9" text-anchor="middle" class="tk">300</text>
<line x1="632.4" y1="304.9" x2="632.4" y2="308.4" stroke="#333" stroke-width="1"/>
<text x="632.4" y="318.9" text-anchor="middle" class="tk">400</text>
<line x1="653.8" y1="304.9" x2="653.8" y2="308.4" stroke="#333" stroke-width="1"/>
<text x="653.8" y="318.9" text-anchor="middle" class="tk">500</text>
<line x1="675.2" y1="304.9" x2="675.2" y2="308.4" stroke="#333" stroke-width="1"/>
<text x="675.2" y="318.9" text-anchor="middle" class="tk">600</text>
<line x1="696.6" y1="304.9" x2="696.6" y2="308.4" stroke="#333" stroke-width="1"/>
<text x="696.6" y="318.9" text-anchor="middle" class="tk">700</text>
<line x1="718.0" y1="304.9" x2="718.0" y2="308.4" stroke="#333" stroke-width="1"/>
<text x="718.0" y="318.9" text-anchor="middle" class="tk">800</text>
<text x="632.4" y="331.5" text-anchor="middle" class="tl">Time (s)</text>
<text transform="translate(500.5,231) rotate(-90)" text-anchor="middle" class="tl">Response (RU)</text>
<path d="M781.0,292.1 L794.6,292.1 L794.7,290.5 L794.9,287.3 L795.1,284.3 L795.3,281.3 L795.5,278.5 L795.8,275.7 L796.0,273.0 L796.2,270.3 L796.4,267.8 L796.6,265.3 L796.8,262.9 L797.1,260.6 L797.3,258.3 L797.5,256.1 L797.7,254.0 L797.9,251.9 L798.1,249.9 L798.3,248.0 L798.6,246.1 L798.8,244.2 L799.0,242.5 L799.2,240.7 L799.4,239.0 L799.6,237.4 L799.9,235.8 L800.1,234.3 L800.3,232.8 L800.5,231.3 L800.7,229.9 L800.9,228.5 L801.2,227.2 L801.8,223.4 L802.4,219.9 L803.1,216.7 L803.7,213.7 L804.4,211.0 L805.0,208.4 L805.7,206.1 L806.3,203.9 L807.0,201.9 L807.6,200.1 L808.3,198.3 L808.9,196.7 L809.6,195.2 L810.2,193.8 L810.8,192.4 L811.5,191.2 L812.1,190.0 L812.8,188.9 L813.4,187.9 L814.1,186.9 L814.7,185.9 L815.4,185.0 L816.0,184.2 L816.7,183.3 L817.3,182.5 L818.0,181.8 L818.6,181.1 L819.3,180.4 L819.9,179.7 L820.5,179.0 L821.2,178.4 L821.8,177.8 L822.5,177.2 L823.1,176.6 L823.8,176.0 L824.4,175.4 L825.1,174.9 L825.7,174.3 L826.4,173.8 L827.0,173.3 L827.7,172.8 L828.3,172.3 L828.9,171.7 L829.6,171.3 L830.2,170.8 L830.9,170.3 L831.5,169.8 L832.2,169.3 L832.3,169.2 L834.4,169.6 L837.7,170.1 L840.9,170.6 L844.1,171.1 L847.4,171.6 L850.6,172.1 L853.8,172.6 L857.1,173.1 L860.3,173.6 L863.5,174.1 L866.8,174.5 L870.0,175.0 L873.2,175.5 L876.5,176.0 L879.7,176.5 L882.9,177.0 L886.2,177.4 L889.4,177.9 L892.6,178.4 L895.9,178.8 L899.1,179.3 L902.3,179.8 L905.6,180.2 L908.8,180.7 L912.0,181.2 L915.3,181.6 L918.5,182.1 L921.7,182.5 L925.0,183.0 L928.2,183.4 L931.4,183.9 L934.7,184.3 L937.9,184.8 L941.1,185.2 L944.4,185.7 L947.6,186.1 L950.8,186.5 L954.0,187.0 L957.3,187.4 L960.5,187.8 L963.7,188.3 L963.7,188.3" fill="none" stroke="#f07a2a" stroke-width="1.4" stroke-linejoin="round"/>
<path d="M781.0,292.1 L794.6,292.1 L794.7,290.2 L794.9,286.6 L795.1,283.0 L795.3,279.6 L795.5,276.2 L795.8,273.0 L796.0,269.8 L796.2,266.8 L796.4,263.8 L796.6,261.0 L796.8,258.2 L797.1,255.5 L797.3,252.9 L797.5,250.4 L797.7,247.9 L797.9,245.6 L798.1,243.2 L798.3,241.0 L798.6,238.8 L798.8,236.8 L799.0,234.7 L799.2,232.7 L799.4,230.8 L799.6,229.0 L799.9,227.2 L800.1,225.4 L800.3,223.7 L800.5,222.1 L800.7,220.5 L800.9,219.0 L801.2,217.5 L801.8,213.3 L802.4,209.4 L803.1,206.0 L803.7,202.8 L804.4,199.9 L805.0,197.2 L805.7,194.8 L806.3,192.6 L807.0,190.6 L807.6,188.8 L808.3,187.1 L808.9,185.6 L809.6,184.2 L810.2,183.0 L810.8,181.8 L811.5,180.8 L812.1,179.8 L812.8,179.0 L813.4,178.2 L814.1,177.5 L814.7,176.8 L815.4,176.2 L816.0,175.7 L816.7,175.2 L817.3,174.7 L818.0,174.3 L818.6,173.9 L819.3,173.6 L819.9,173.3 L820.5,173.0 L821.2,172.7 L821.8,172.5 L822.5,172.3 L823.1,172.1 L823.8,171.9 L824.4,171.8 L825.1,171.6 L825.7,171.5 L826.4,171.4 L827.0,171.2 L827.7,171.1 L828.3,171.0 L828.9,171.0 L829.6,170.9 L830.2,170.8 L830.9,170.7 L831.5,170.7 L832.2,170.6 L832.3,170.6 L834.4,170.9 L837.7,171.4 L840.9,171.8 L844.1,172.3 L847.4,172.7 L850.6,173.2 L853.8,173.6 L857.1,174.0 L860.3,174.5 L863.5,174.9 L866.8,175.3 L870.0,175.8 L873.2,176.2 L876.5,176.6 L879.7,177.1 L882.9,177.5 L886.2,177.9 L889.4,178.3 L892.6,178.7 L895.9,179.2 L899.1,179.6 L902.3,180.0 L905.6,180.4 L908.8,180.8 L912.0,181.2 L915.3,181.6 L918.5,182.1 L921.7,182.5 L925.0,182.9 L928.2,183.3 L931.4,183.7 L934.7,184.1 L937.9,184.5 L941.1,184.9 L944.4,185.3 L947.6,185.7 L950.8,186.1 L954.0,186.5 L957.3,186.8 L960.5,187.2 L963.7,187.6 L963.7,187.6" fill="none" stroke="#111" stroke-width="1.0" stroke-linejoin="round"/>
<path d="M781.0,292.1 L794.6,292.1 L794.7,291.3 L794.9,289.8 L795.1,288.3 L795.3,286.8 L795.5,285.3 L795.8,283.8 L796.0,282.4 L796.2,281.0 L796.4,279.6 L796.6,278.3 L796.8,276.9 L797.1,275.6 L797.3,274.3 L797.5,273.0 L797.7,271.8 L797.9,270.5 L798.1,269.3 L798.3,268.1 L798.6,267.0 L798.8,265.8 L799.0,264.7 L799.2,263.5 L799.4,262.4 L799.6,261.4 L799.9,260.3 L800.1,259.2 L800.3,258.2 L800.5,257.2 L800.7,256.2 L800.9,255.2 L801.2,254.2 L801.8,251.4 L802.4,248.7 L803.1,246.1 L803.7,243.7 L804.4,241.4 L805.0,239.1 L805.7,237.0 L806.3,235.0 L807.0,233.1 L807.6,231.3 L808.3,229.5 L808.9,227.8 L809.6,226.3 L810.2,224.7 L810.8,223.3 L811.5,221.9 L812.1,220.6 L812.8,219.4 L813.4,218.2 L814.1,217.0 L814.7,216.0 L815.4,214.9 L816.0,214.0 L816.7,213.0 L817.3,212.1 L818.0,211.3 L818.6,210.5 L819.3,209.7 L819.9,209.0 L820.5,208.3 L821.2,207.6 L821.8,206.9 L822.5,206.3 L823.1,205.8 L823.8,205.2 L824.4,204.7 L825.1,204.2 L825.7,203.7 L826.4,203.2 L827.0,202.8 L827.7,202.4 L828.3,202.0 L828.9,201.6 L829.6,201.3 L830.2,200.9 L830.9,200.6 L831.5,200.3 L832.2,200.0 L832.3,199.9 L834.4,200.1 L837.7,200.4 L840.9,200.7 L844.1,201.0 L847.4,201.3 L850.6,201.6 L853.8,201.9 L857.1,202.2 L860.3,202.5 L863.5,202.8 L866.8,203.1 L870.0,203.3 L873.2,203.6 L876.5,203.9 L879.7,204.2 L882.9,204.5 L886.2,204.7 L889.4,205.0 L892.6,205.3 L895.9,205.6 L899.1,205.9 L902.3,206.1 L905.6,206.4 L908.8,206.7 L912.0,207.0 L915.3,207.2 L918.5,207.5 L921.7,207.8 L925.0,208.0 L928.2,208.3 L931.4,208.6 L934.7,208.9 L937.9,209.1 L941.1,209.4 L944.4,209.7 L947.6,209.9 L950.8,210.2 L954.0,210.4 L957.3,210.7 L960.5,211.0 L963.7,211.2 L963.7,211.2" fill="none" stroke="#3aa845" stroke-width="1.4" stroke-linejoin="round"/>
<path d="M781.0,292.1 L794.6,292.1 L794.7,291.4 L794.9,289.9 L795.1,288.4 L795.3,287.0 L795.5,285.6 L795.8,284.2 L796.0,282.8 L796.2,281.4 L796.4,280.1 L796.6,278.8 L796.8,277.5 L797.1,276.2 L797.3,275.0 L797.5,273.7 L797.7,272.5 L797.9,271.3 L798.1,270.1 L798.3,269.0 L798.6,267.8 L798.8,266.7 L799.0,265.6 L799.2,264.5 L799.4,263.4 L799.6,262.3 L799.9,261.3 L800.1,260.2 L800.3,259.2 L800.5,258.2 L800.7,257.2 L800.9,256.3 L801.2,255.3 L801.8,252.5 L802.4,249.8 L803.1,247.3 L803.7,244.8 L804.4,242.5 L805.0,240.3 L805.7,238.2 L806.3,236.1 L807.0,234.2 L807.6,232.3 L808.3,230.5 L808.9,228.8 L809.6,227.2 L810.2,225.6 L810.8,224.2 L811.5,222.7 L812.1,221.4 L812.8,220.1 L813.4,218.8 L814.1,217.6 L814.7,216.5 L815.4,215.4 L816.0,214.4 L816.7,213.4 L817.3,212.4 L818.0,211.5 L818.6,210.7 L819.3,209.8 L819.9,209.1 L820.5,208.3 L821.2,207.6 L821.8,206.9 L822.5,206.2 L823.1,205.6 L823.8,205.0 L824.4,204.4 L825.1,203.9 L825.7,203.3 L826.4,202.8 L827.0,202.3 L827.7,201.9 L828.3,201.4 L828.9,201.0 L829.6,200.6 L830.2,200.2 L830.9,199.9 L831.5,199.5 L832.2,199.2 L832.3,199.1 L834.4,199.3 L837.7,199.6 L840.9,199.9 L844.1,200.2 L847.4,200.5 L850.6,200.8 L853.8,201.1 L857.1,201.4 L860.3,201.7 L863.5,202.0 L866.8,202.3 L870.0,202.6 L873.2,202.9 L876.5,203.2 L879.7,203.5 L882.9,203.8 L886.2,204.1 L889.4,204.4 L892.6,204.7 L895.9,205.0 L899.1,205.2 L902.3,205.5 L905.6,205.8 L908.8,206.1 L912.0,206.4 L915.3,206.7 L918.5,206.9 L921.7,207.2 L925.0,207.5 L928.2,207.8 L931.4,208.1 L934.7,208.3 L937.9,208.6 L941.1,208.9 L944.4,209.2 L947.6,209.4 L950.8,209.7 L954.0,210.0 L957.3,210.3 L960.5,210.5 L963.7,210.8 L963.7,210.8" fill="none" stroke="#111" stroke-width="1.0" stroke-linejoin="round"/>
<path d="M781.0,292.1 L794.6,292.1 L794.7,291.8 L794.9,291.2 L795.1,290.5 L795.3,289.9 L795.5,289.3 L795.8,288.7 L796.0,288.1 L796.2,287.5 L796.4,286.9 L796.6,286.3 L796.8,285.8 L797.1,285.2 L797.3,284.6 L797.5,284.1 L797.7,283.5 L797.9,283.0 L798.1,282.4 L798.3,281.9 L798.6,281.3 L798.8,280.8 L799.0,280.3 L799.2,279.7 L799.4,279.2 L799.6,278.7 L799.9,278.2 L800.1,277.7 L800.3,277.2 L800.5,276.7 L800.7,276.2 L800.9,275.7 L801.2,275.2 L801.8,273.8 L802.4,272.4 L803.1,271.0 L803.7,269.7 L804.4,268.4 L805.0,267.1 L805.7,265.9 L806.3,264.7 L807.0,263.6 L807.6,262.4 L808.3,261.3 L808.9,260.2 L809.6,259.2 L810.2,258.2 L810.8,257.2 L811.5,256.2 L812.1,255.3 L812.8,254.3 L813.4,253.5 L814.1,252.6 L814.7,251.7 L815.4,250.9 L816.0,250.1 L816.7,249.3 L817.3,248.5 L818.0,247.8 L818.6,247.1 L819.3,246.4 L819.9,245.7 L820.5,245.0 L821.2,244.3 L821.8,243.7 L822.5,243.1 L823.1,242.5 L823.8,241.9 L824.4,241.3 L825.1,240.8 L825.7,240.2 L826.4,239.7 L827.0,239.2 L827.7,238.7 L828.3,238.2 L828.9,237.7 L829.6,237.2 L830.2,236.8 L830.9,236.3 L831.5,235.9 L832.2,235.5 L832.3,235.4 L834.4,235.5 L837.7,235.7 L840.9,235.8 L844.1,236.0 L847.4,236.2 L850.6,236.3 L853.8,236.5 L857.1,236.7 L860.3,236.8 L863.5,237.0 L866.8,237.1 L870.0,237.3 L873.2,237.5 L876.5,237.6 L879.7,237.8 L882.9,237.9 L886.2,238.1 L889.4,238.3 L892.6,238.4 L895.9,238.6 L899.1,238.7 L902.3,238.9 L905.6,239.0 L908.8,239.2 L912.0,239.3 L915.3,239.5 L918.5,239.7 L921.7,239.8 L925.0,240.0 L928.2,240.1 L931.4,240.3 L934.7,240.4 L937.9,240.6 L941.1,240.7 L944.4,240.9 L947.6,241.0 L950.8,241.2 L954.0,241.3 L957.3,241.5 L960.5,241.6 L963.7,241.8 L963.7,241.8" fill="none" stroke="#2f7cc4" stroke-width="1.4" stroke-linejoin="round"/>
<path d="M781.0,292.1 L794.6,292.1 L794.7,291.8 L794.9,291.2 L795.1,290.6 L795.3,290.0 L795.5,289.4 L795.8,288.8 L796.0,288.2 L796.2,287.6 L796.4,287.1 L796.6,286.5 L796.8,285.9 L797.1,285.4 L797.3,284.8 L797.5,284.3 L797.7,283.7 L797.9,283.2 L798.1,282.7 L798.3,282.1 L798.6,281.6 L798.8,281.1 L799.0,280.5 L799.2,280.0 L799.4,279.5 L799.6,279.0 L799.9,278.5 L800.1,278.0 L800.3,277.5 L800.5,277.0 L800.7,276.5 L800.9,276.1 L801.2,275.6 L801.8,274.2 L802.4,272.8 L803.1,271.4 L803.7,270.1 L804.4,268.9 L805.0,267.6 L805.7,266.4 L806.3,265.2 L807.0,264.0 L807.6,262.9 L808.3,261.8 L808.9,260.7 L809.6,259.7 L810.2,258.6 L810.8,257.6 L811.5,256.7 L812.1,255.7 L812.8,254.8 L813.4,253.9 L814.1,253.0 L814.7,252.1 L815.4,251.3 L816.0,250.5 L816.7,249.7 L817.3,248.9 L818.0,248.1 L818.6,247.4 L819.3,246.6 L819.9,245.9 L820.5,245.2 L821.2,244.6 L821.8,243.9 L822.5,243.3 L823.1,242.6 L823.8,242.0 L824.4,241.4 L825.1,240.8 L825.7,240.3 L826.4,239.7 L827.0,239.2 L827.7,238.6 L828.3,238.1 L828.9,237.6 L829.6,237.1 L830.2,236.7 L830.9,236.2 L831.5,235.7 L832.2,235.3 L832.3,235.2 L834.4,235.3 L837.7,235.5 L840.9,235.7 L844.1,235.9 L847.4,236.1 L850.6,236.2 L853.8,236.4 L857.1,236.6 L860.3,236.8 L863.5,236.9 L866.8,237.1 L870.0,237.3 L873.2,237.4 L876.5,237.6 L879.7,237.8 L882.9,238.0 L886.2,238.1 L889.4,238.3 L892.6,238.5 L895.9,238.6 L899.1,238.8 L902.3,239.0 L905.6,239.1 L908.8,239.3 L912.0,239.5 L915.3,239.6 L918.5,239.8 L921.7,240.0 L925.0,240.1 L928.2,240.3 L931.4,240.5 L934.7,240.6 L937.9,240.8 L941.1,240.9 L944.4,241.1 L947.6,241.3 L950.8,241.4 L954.0,241.6 L957.3,241.7 L960.5,241.9 L963.7,242.1 L963.7,242.1" fill="none" stroke="#111" stroke-width="1.0" stroke-linejoin="round"/>
<path d="M781.0,292.1 L794.6,292.1 L794.7,292.0 L794.9,291.8 L795.1,291.7 L795.3,291.5 L795.5,291.3 L795.8,291.1 L796.0,290.9 L796.2,290.8 L796.4,290.6 L796.6,290.4 L796.8,290.2 L797.1,290.1 L797.3,289.9 L797.5,289.7 L797.7,289.5 L797.9,289.4 L798.1,289.2 L798.3,289.0 L798.6,288.8 L798.8,288.7 L799.0,288.5 L799.2,288.3 L799.4,288.2 L799.6,288.0 L799.9,287.8 L800.1,287.6 L800.3,287.5 L800.5,287.3 L800.7,287.1 L800.9,287.0 L801.2,286.8 L801.8,286.3 L802.4,285.8 L803.1,285.3 L803.7,284.8 L804.4,284.3 L805.0,283.8 L805.7,283.3 L806.3,282.8 L807.0,282.4 L807.6,281.9 L808.3,281.4 L808.9,280.9 L809.6,280.5 L810.2,280.0 L810.8,279.5 L811.5,279.1 L812.1,278.6 L812.8,278.2 L813.4,277.7 L814.1,277.3 L814.7,276.8 L815.4,276.4 L816.0,275.9 L816.7,275.5 L817.3,275.1 L818.0,274.6 L818.6,274.2 L819.3,273.8 L819.9,273.3 L820.5,272.9 L821.2,272.5 L821.8,272.1 L822.5,271.7 L823.1,271.2 L823.8,270.8 L824.4,270.4 L825.1,270.0 L825.7,269.6 L826.4,269.2 L827.0,268.8 L827.7,268.4 L828.3,268.0 L828.9,267.6 L829.6,267.2 L830.2,266.9 L830.9,266.5 L831.5,266.1 L832.2,265.7 L832.3,265.6 L834.4,265.7 L837.7,265.7 L840.9,265.8 L844.1,265.8 L847.4,265.9 L850.6,265.9 L853.8,266.0 L857.1,266.0 L860.3,266.1 L863.5,266.2 L866.8,266.2 L870.0,266.3 L873.2,266.3 L876.5,266.4 L879.7,266.4 L882.9,266.5 L886.2,266.5 L889.4,266.6 L892.6,266.6 L895.9,266.7 L899.1,266.7 L902.3,266.8 L905.6,266.8 L908.8,266.9 L912.0,266.9 L915.3,267.0 L918.5,267.0 L921.7,267.1 L925.0,267.1 L928.2,267.2 L931.4,267.2 L934.7,267.3 L937.9,267.3 L941.1,267.4 L944.4,267.4 L947.6,267.5 L950.8,267.5 L954.0,267.6 L957.3,267.6 L960.5,267.7 L963.7,267.7 L963.7,267.7" fill="none" stroke="#d8383a" stroke-width="1.4" stroke-linejoin="round"/>
<path d="M781.0,292.1 L794.6,292.1 L794.7,292.0 L794.9,291.8 L795.1,291.7 L795.3,291.5 L795.5,291.3 L795.8,291.1 L796.0,290.9 L796.2,290.8 L796.4,290.6 L796.6,290.4 L796.8,290.2 L797.1,290.1 L797.3,289.9 L797.5,289.7 L797.7,289.6 L797.9,289.4 L798.1,289.2 L798.3,289.0 L798.6,288.9 L798.8,288.7 L799.0,288.5 L799.2,288.3 L799.4,288.2 L799.6,288.0 L799.9,287.8 L800.1,287.7 L800.3,287.5 L800.5,287.3 L800.7,287.2 L800.9,287.0 L801.2,286.8 L801.8,286.3 L802.4,285.8 L803.1,285.3 L803.7,284.8 L804.4,284.3 L805.0,283.9 L805.7,283.4 L806.3,282.9 L807.0,282.4 L807.6,281.9 L808.3,281.5 L808.9,281.0 L809.6,280.5 L810.2,280.1 L810.8,279.6 L811.5,279.1 L812.1,278.7 L812.8,278.2 L813.4,277.8 L814.1,277.3 L814.7,276.9 L815.4,276.4 L816.0,276.0 L816.7,275.6 L817.3,275.1 L818.0,274.7 L818.6,274.3 L819.3,273.8 L819.9,273.4 L820.5,273.0 L821.2,272.6 L821.8,272.2 L822.5,271.7 L823.1,271.3 L823.8,270.9 L824.4,270.5 L825.1,270.1 L825.7,269.7 L826.4,269.3 L827.0,268.9 L827.7,268.5 L828.3,268.1 L828.9,267.7 L829.6,267.3 L830.2,266.9 L830.9,266.6 L831.5,266.2 L832.2,265.8 L832.3,265.7 L834.4,265.8 L837.7,265.8 L840.9,265.9 L844.1,266.0 L847.4,266.0 L850.6,266.1 L853.8,266.2 L857.1,266.2 L860.3,266.3 L863.5,266.3 L866.8,266.4 L870.0,266.5 L873.2,266.5 L876.5,266.6 L879.7,266.7 L882.9,266.7 L886.2,266.8 L889.4,266.8 L892.6,266.9 L895.9,267.0 L899.1,267.0 L902.3,267.1 L905.6,267.1 L908.8,267.2 L912.0,267.3 L915.3,267.3 L918.5,267.4 L921.7,267.4 L925.0,267.5 L928.2,267.6 L931.4,267.6 L934.7,267.7 L937.9,267.7 L941.1,267.8 L944.4,267.8 L947.6,267.9 L950.8,268.0 L954.0,268.0 L957.3,268.1 L960.5,268.1 L963.7,268.2 L963.7,268.2" fill="none" stroke="#111" stroke-width="1.0" stroke-linejoin="round"/>
<path d="M786.4,296.8 L786.4,286.1" fill="none" stroke="#3aa845" stroke-width="1.3" stroke-linejoin="round"/>
<path d="M774.0,155.6 L774.0,305.0 L971.8,305.0" fill="none" stroke="#5a5a5a" stroke-width="1.4"/>
<line x1="770.5" y1="292.1" x2="774.0" y2="292.1" stroke="#333" stroke-width="1"/>
<text x="769.2" y="295.4" text-anchor="end" class="tk">0</text>
<line x1="770.5" y1="270.8" x2="774.0" y2="270.8" stroke="#333" stroke-width="1"/>
<text x="769.2" y="274.1" text-anchor="end" class="tk">100</text>
<line x1="770.5" y1="249.4" x2="774.0" y2="249.4" stroke="#333" stroke-width="1"/>
<text x="769.2" y="252.7" text-anchor="end" class="tk">200</text>
<line x1="770.5" y1="228.1" x2="774.0" y2="228.1" stroke="#333" stroke-width="1"/>
<text x="769.2" y="231.4" text-anchor="end" class="tk">300</text>
<line x1="770.5" y1="206.8" x2="774.0" y2="206.8" stroke="#333" stroke-width="1"/>
<text x="769.2" y="210.1" text-anchor="end" class="tk">400</text>
<line x1="770.5" y1="185.5" x2="774.0" y2="185.5" stroke="#333" stroke-width="1"/>
<text x="769.2" y="188.8" text-anchor="end" class="tk">500</text>
<line x1="770.5" y1="164.1" x2="774.0" y2="164.1" stroke="#333" stroke-width="1"/>
<text x="769.2" y="167.4" text-anchor="end" class="tk">600</text>
<line x1="793.5" y1="305.0" x2="793.5" y2="308.5" stroke="#333" stroke-width="1"/>
<text x="793.5" y="318.9" text-anchor="middle" class="tk">0</text>
<line x1="815.0" y1="305.0" x2="815.0" y2="308.5" stroke="#333" stroke-width="1"/>
<text x="815.0" y="318.9" text-anchor="middle" class="tk">100</text>
<line x1="836.6" y1="305.0" x2="836.6" y2="308.5" stroke="#333" stroke-width="1"/>
<text x="836.6" y="318.9" text-anchor="middle" class="tk">200</text>
<line x1="858.1" y1="305.0" x2="858.1" y2="308.5" stroke="#333" stroke-width="1"/>
<text x="858.1" y="318.9" text-anchor="middle" class="tk">300</text>
<line x1="879.7" y1="305.0" x2="879.7" y2="308.5" stroke="#333" stroke-width="1"/>
<text x="879.7" y="318.9" text-anchor="middle" class="tk">400</text>
<line x1="901.2" y1="305.0" x2="901.2" y2="308.5" stroke="#333" stroke-width="1"/>
<text x="901.2" y="318.9" text-anchor="middle" class="tk">500</text>
<line x1="922.8" y1="305.0" x2="922.8" y2="308.5" stroke="#333" stroke-width="1"/>
<text x="922.8" y="318.9" text-anchor="middle" class="tk">600</text>
<line x1="944.4" y1="305.0" x2="944.4" y2="308.5" stroke="#333" stroke-width="1"/>
<text x="944.4" y="318.9" text-anchor="middle" class="tk">700</text>
<line x1="965.9" y1="305.0" x2="965.9" y2="308.5" stroke="#333" stroke-width="1"/>
<text x="965.9" y="318.9" text-anchor="middle" class="tk">800</text>
<text x="879.7" y="331.5" text-anchor="middle" class="tl">Time (s)</text>
<text transform="translate(749.3000000000001,229) rotate(-90)" text-anchor="middle" class="tl">Response (RU)</text>
<path d="M1030.0,287.3 L1043.1,287.3 L1043.3,285.9 L1043.5,283.2 L1043.7,280.5 L1043.9,277.9 L1044.1,275.3 L1044.3,272.9 L1044.5,270.4 L1044.8,268.1 L1045.0,265.8 L1045.2,263.5 L1045.4,261.4 L1045.6,259.2 L1045.8,257.1 L1046.0,255.1 L1046.2,253.1 L1046.5,251.2 L1046.7,249.3 L1046.9,247.5 L1047.1,245.7 L1047.3,243.9 L1047.5,242.2 L1047.7,240.5 L1048.0,238.9 L1048.2,237.3 L1048.4,235.8 L1048.6,234.3 L1048.8,232.8 L1049.0,231.4 L1049.2,229.9 L1049.5,228.6 L1049.7,227.2 L1050.3,223.4 L1050.9,219.9 L1051.6,216.5 L1052.2,213.5 L1052.9,210.6 L1053.5,207.9 L1054.2,205.4 L1054.8,203.1 L1055.4,200.9 L1056.1,198.9 L1056.7,197.0 L1057.4,195.2 L1058.0,193.5 L1058.6,192.0 L1059.3,190.5 L1059.9,189.1 L1060.6,187.8 L1061.2,186.6 L1061.8,185.5 L1062.5,184.4 L1063.1,183.4 L1063.8,182.4 L1064.4,181.5 L1065.1,180.7 L1065.7,179.9 L1066.3,179.1 L1067.0,178.3 L1067.6,177.6 L1068.3,177.0 L1068.9,176.3 L1069.5,175.7 L1070.2,175.2 L1070.8,174.6 L1071.5,174.1 L1072.1,173.5 L1072.7,173.1 L1073.4,172.6 L1074.0,172.1 L1074.7,171.7 L1075.3,171.2 L1076.0,170.8 L1076.6,170.4 L1077.2,170.0 L1077.9,169.6 L1078.5,169.3 L1079.2,168.9 L1079.8,168.5 L1080.4,168.2 L1080.9,168.0 L1083.0,168.8 L1086.2,170.0 L1089.4,171.2 L1092.6,172.3 L1095.8,173.5 L1099.0,174.7 L1102.2,175.8 L1105.4,176.9 L1108.6,178.0 L1111.9,179.2 L1115.1,180.3 L1118.3,181.3 L1121.5,182.4 L1124.7,183.5 L1127.9,184.5 L1131.1,185.6 L1134.3,186.6 L1137.5,187.6 L1140.7,188.6 L1143.9,189.6 L1147.1,190.6 L1150.3,191.6 L1153.5,192.6 L1156.7,193.5 L1159.9,194.5 L1163.1,195.4 L1166.3,196.4 L1169.6,197.3 L1172.8,198.2 L1176.0,199.1 L1179.2,200.0 L1182.4,200.9 L1185.6,201.8 L1188.8,202.6 L1192.0,203.5 L1195.2,204.3 L1198.4,205.2 L1201.6,206.0 L1204.8,206.8 L1208.0,207.7 L1211.2,208.5 L1211.2,208.5" fill="none" stroke="#f07a2a" stroke-width="1.4" stroke-linejoin="round"/>
<path d="M1030.0,287.3 L1043.1,287.3 L1043.3,285.8 L1043.5,282.9 L1043.7,280.1 L1043.9,277.4 L1044.1,274.7 L1044.3,272.1 L1044.5,269.5 L1044.8,267.0 L1045.0,264.6 L1045.2,262.2 L1045.4,259.9 L1045.6,257.7 L1045.8,255.5 L1046.0,253.3 L1046.2,251.2 L1046.5,249.2 L1046.7,247.2 L1046.9,245.3 L1047.1,243.4 L1047.3,241.5 L1047.5,239.7 L1047.7,238.0 L1048.0,236.3 L1048.2,234.6 L1048.4,233.0 L1048.6,231.4 L1048.8,229.8 L1049.0,228.3 L1049.2,226.9 L1049.5,225.4 L1049.7,224.0 L1050.3,220.0 L1050.9,216.3 L1051.6,212.9 L1052.2,209.7 L1052.9,206.7 L1053.5,204.0 L1054.2,201.4 L1054.8,199.0 L1055.4,196.9 L1056.1,194.8 L1056.7,192.9 L1057.4,191.2 L1058.0,189.5 L1058.6,188.0 L1059.3,186.6 L1059.9,185.3 L1060.6,184.1 L1061.2,183.0 L1061.8,182.0 L1062.5,181.0 L1063.1,180.1 L1063.8,179.3 L1064.4,178.5 L1065.1,177.8 L1065.7,177.2 L1066.3,176.5 L1067.0,176.0 L1067.6,175.5 L1068.3,175.0 L1068.9,174.5 L1069.5,174.1 L1070.2,173.7 L1070.8,173.3 L1071.5,173.0 L1072.1,172.7 L1072.7,172.4 L1073.4,172.1 L1074.0,171.9 L1074.7,171.6 L1075.3,171.4 L1076.0,171.2 L1076.6,171.0 L1077.2,170.9 L1077.9,170.7 L1078.5,170.6 L1079.2,170.4 L1079.8,170.3 L1080.4,170.2 L1080.9,170.1 L1083.0,170.9 L1086.2,172.1 L1089.4,173.3 L1092.6,174.4 L1095.8,175.6 L1099.0,176.7 L1102.2,177.8 L1105.4,178.9 L1108.6,180.0 L1111.9,181.1 L1115.1,182.2 L1118.3,183.3 L1121.5,184.3 L1124.7,185.4 L1127.9,186.4 L1131.1,187.4 L1134.3,188.4 L1137.5,189.4 L1140.7,190.4 L1143.9,191.4 L1147.1,192.4 L1150.3,193.3 L1153.5,194.3 L1156.7,195.2 L1159.9,196.2 L1163.1,197.1 L1166.3,198.0 L1169.6,198.9 L1172.8,199.8 L1176.0,200.7 L1179.2,201.6 L1182.4,202.5 L1185.6,203.3 L1188.8,204.2 L1192.0,205.0 L1195.2,205.9 L1198.4,206.7 L1201.6,207.5 L1204.8,208.3 L1208.0,209.1 L1211.2,209.9 L1211.2,209.9" fill="none" stroke="#111" stroke-width="1.0" stroke-linejoin="round"/>
<path d="M1030.0,287.3 L1043.1,287.3 L1043.3,286.9 L1043.5,286.0 L1043.7,285.2 L1043.9,284.4 L1044.1,283.5 L1044.3,282.7 L1044.5,281.9 L1044.8,281.1 L1045.0,280.3 L1045.2,279.5 L1045.4,278.7 L1045.6,277.9 L1045.8,277.2 L1046.0,276.4 L1046.2,275.6 L1046.5,274.9 L1046.7,274.1 L1046.9,273.3 L1047.1,272.6 L1047.3,271.9 L1047.5,271.1 L1047.7,270.4 L1048.0,269.7 L1048.2,269.0 L1048.4,268.2 L1048.6,267.5 L1048.8,266.8 L1049.0,266.1 L1049.2,265.4 L1049.5,264.8 L1049.7,264.1 L1050.3,262.0 L1050.9,260.1 L1051.6,258.1 L1052.2,256.2 L1052.9,254.4 L1053.5,252.6 L1054.2,250.8 L1054.8,249.1 L1055.4,247.4 L1056.1,245.7 L1056.7,244.1 L1057.4,242.5 L1058.0,240.9 L1058.6,239.4 L1059.3,237.9 L1059.9,236.4 L1060.6,235.0 L1061.2,233.6 L1061.8,232.2 L1062.5,230.9 L1063.1,229.6 L1063.8,228.3 L1064.4,227.0 L1065.1,225.8 L1065.7,224.6 L1066.3,223.4 L1067.0,222.3 L1067.6,221.1 L1068.3,220.0 L1068.9,218.9 L1069.5,217.9 L1070.2,216.9 L1070.8,215.8 L1071.5,214.9 L1072.1,213.9 L1072.7,212.9 L1073.4,212.0 L1074.0,211.1 L1074.7,210.2 L1075.3,209.3 L1076.0,208.5 L1076.6,207.6 L1077.2,206.8 L1077.9,206.0 L1078.5,205.3 L1079.2,204.5 L1079.8,203.7 L1080.4,203.0 L1080.9,202.5 L1083.0,203.1 L1086.2,203.9 L1089.4,204.7 L1092.6,205.5 L1095.8,206.2 L1099.0,207.0 L1102.2,207.8 L1105.4,208.5 L1108.6,209.3 L1111.9,210.0 L1115.1,210.8 L1118.3,211.5 L1121.5,212.2 L1124.7,213.0 L1127.9,213.7 L1131.1,214.4 L1134.3,215.1 L1137.5,215.8 L1140.7,216.4 L1143.9,217.1 L1147.1,217.8 L1150.3,218.4 L1153.5,219.1 L1156.7,219.8 L1159.9,220.4 L1163.1,221.0 L1166.3,221.7 L1169.6,222.3 L1172.8,222.9 L1176.0,223.5 L1179.2,224.1 L1182.4,224.7 L1185.6,225.3 L1188.8,225.9 L1192.0,226.5 L1195.2,227.1 L1198.4,227.7 L1201.6,228.3 L1204.8,228.8 L1208.0,229.4 L1211.2,229.9 L1211.2,229.9" fill="none" stroke="#3aa845" stroke-width="1.4" stroke-linejoin="round"/>
<path d="M1030.0,287.3 L1043.1,287.3 L1043.3,286.9 L1043.5,286.1 L1043.7,285.2 L1043.9,284.4 L1044.1,283.6 L1044.3,282.8 L1044.5,282.0 L1044.8,281.2 L1045.0,280.5 L1045.2,279.7 L1045.4,278.9 L1045.6,278.1 L1045.8,277.4 L1046.0,276.6 L1046.2,275.9 L1046.5,275.1 L1046.7,274.4 L1046.9,273.6 L1047.1,272.9 L1047.3,272.2 L1047.5,271.5 L1047.7,270.7 L1048.0,270.0 L1048.2,269.3 L1048.4,268.6 L1048.6,267.9 L1048.8,267.2 L1049.0,266.5 L1049.2,265.8 L1049.5,265.2 L1049.7,264.5 L1050.3,262.5 L1050.9,260.5 L1051.6,258.6 L1052.2,256.7 L1052.9,254.9 L1053.5,253.1 L1054.2,251.3 L1054.8,249.6 L1055.4,247.9 L1056.1,246.2 L1056.7,244.6 L1057.4,243.0 L1058.0,241.4 L1058.6,239.9 L1059.3,238.4 L1059.9,236.9 L1060.6,235.5 L1061.2,234.1 L1061.8,232.7 L1062.5,231.3 L1063.1,230.0 L1063.8,228.7 L1064.4,227.4 L1065.1,226.2 L1065.7,225.0 L1066.3,223.8 L1067.0,222.6 L1067.6,221.4 L1068.3,220.3 L1068.9,219.2 L1069.5,218.1 L1070.2,217.0 L1070.8,216.0 L1071.5,215.0 L1072.1,214.0 L1072.7,213.0 L1073.4,212.1 L1074.0,211.1 L1074.7,210.2 L1075.3,209.3 L1076.0,208.4 L1076.6,207.5 L1077.2,206.7 L1077.9,205.9 L1078.5,205.0 L1079.2,204.3 L1079.8,203.5 L1080.4,202.7 L1080.9,202.2 L1083.0,202.8 L1086.2,203.6 L1089.4,204.5 L1092.6,205.3 L1095.8,206.2 L1099.0,207.0 L1102.2,207.8 L1105.4,208.6 L1108.6,209.4 L1111.9,210.2 L1115.1,211.0 L1118.3,211.7 L1121.5,212.5 L1124.7,213.3 L1127.9,214.0 L1131.1,214.8 L1134.3,215.5 L1137.5,216.2 L1140.7,217.0 L1143.9,217.7 L1147.1,218.4 L1150.3,219.1 L1153.5,219.8 L1156.7,220.5 L1159.9,221.1 L1163.1,221.8 L1166.3,222.5 L1169.6,223.1 L1172.8,223.8 L1176.0,224.4 L1179.2,225.1 L1182.4,225.7 L1185.6,226.3 L1188.8,226.9 L1192.0,227.5 L1195.2,228.2 L1198.4,228.8 L1201.6,229.3 L1204.8,229.9 L1208.0,230.5 L1211.2,231.1 L1211.2,231.1" fill="none" stroke="#111" stroke-width="1.0" stroke-linejoin="round"/>
<path d="M1030.0,287.3 L1043.1,287.3 L1043.3,287.1 L1043.5,286.8 L1043.7,286.4 L1043.9,286.1 L1044.1,285.7 L1044.3,285.4 L1044.5,285.0 L1044.8,284.7 L1045.0,284.3 L1045.2,284.0 L1045.4,283.6 L1045.6,283.3 L1045.8,283.0 L1046.0,282.6 L1046.2,282.3 L1046.5,281.9 L1046.7,281.6 L1046.9,281.3 L1047.1,280.9 L1047.3,280.6 L1047.5,280.3 L1047.7,279.9 L1048.0,279.6 L1048.2,279.3 L1048.4,278.9 L1048.6,278.6 L1048.8,278.3 L1049.0,278.0 L1049.2,277.6 L1049.5,277.3 L1049.7,277.0 L1050.3,276.0 L1050.9,275.1 L1051.6,274.1 L1052.2,273.2 L1052.9,272.3 L1053.5,271.3 L1054.2,270.4 L1054.8,269.5 L1055.4,268.6 L1056.1,267.7 L1056.7,266.9 L1057.4,266.0 L1058.0,265.1 L1058.6,264.3 L1059.3,263.4 L1059.9,262.6 L1060.6,261.7 L1061.2,260.9 L1061.8,260.1 L1062.5,259.3 L1063.1,258.5 L1063.8,257.7 L1064.4,256.9 L1065.1,256.1 L1065.7,255.3 L1066.3,254.6 L1067.0,253.8 L1067.6,253.0 L1068.3,252.3 L1068.9,251.6 L1069.5,250.8 L1070.2,250.1 L1070.8,249.4 L1071.5,248.6 L1072.1,247.9 L1072.7,247.2 L1073.4,246.5 L1074.0,245.8 L1074.7,245.2 L1075.3,244.5 L1076.0,243.8 L1076.6,243.1 L1077.2,242.5 L1077.9,241.8 L1078.5,241.2 L1079.2,240.5 L1079.8,239.9 L1080.4,239.3 L1080.9,238.9 L1083.0,239.2 L1086.2,239.6 L1089.4,240.0 L1092.6,240.5 L1095.8,240.9 L1099.0,241.3 L1102.2,241.7 L1105.4,242.1 L1108.6,242.5 L1111.9,243.0 L1115.1,243.4 L1118.3,243.8 L1121.5,244.2 L1124.7,244.6 L1127.9,244.9 L1131.1,245.3 L1134.3,245.7 L1137.5,246.1 L1140.7,246.5 L1143.9,246.8 L1147.1,247.2 L1150.3,247.6 L1153.5,247.9 L1156.7,248.3 L1159.9,248.6 L1163.1,249.0 L1166.3,249.3 L1169.6,249.7 L1172.8,250.0 L1176.0,250.4 L1179.2,250.7 L1182.4,251.0 L1185.6,251.4 L1188.8,251.7 L1192.0,252.0 L1195.2,252.3 L1198.4,252.7 L1201.6,253.0 L1204.8,253.3 L1208.0,253.6 L1211.2,253.9 L1211.2,253.9" fill="none" stroke="#2f7cc4" stroke-width="1.4" stroke-linejoin="round"/>
<path d="M1030.0,287.3 L1043.1,287.3 L1043.3,287.1 L1043.5,286.8 L1043.7,286.4 L1043.9,286.1 L1044.1,285.7 L1044.3,285.3 L1044.5,285.0 L1044.8,284.6 L1045.0,284.3 L1045.2,283.9 L1045.4,283.6 L1045.6,283.3 L1045.8,282.9 L1046.0,282.6 L1046.2,282.2 L1046.5,281.9 L1046.7,281.5 L1046.9,281.2 L1047.1,280.9 L1047.3,280.5 L1047.5,280.2 L1047.7,279.8 L1048.0,279.5 L1048.2,279.2 L1048.4,278.8 L1048.6,278.5 L1048.8,278.2 L1049.0,277.8 L1049.2,277.5 L1049.5,277.2 L1049.7,276.9 L1050.3,275.9 L1050.9,274.9 L1051.6,274.0 L1052.2,273.0 L1052.9,272.1 L1053.5,271.1 L1054.2,270.2 L1054.8,269.3 L1055.4,268.4 L1056.1,267.5 L1056.7,266.6 L1057.4,265.7 L1058.0,264.8 L1058.6,264.0 L1059.3,263.1 L1059.9,262.2 L1060.6,261.4 L1061.2,260.6 L1061.8,259.7 L1062.5,258.9 L1063.1,258.1 L1063.8,257.3 L1064.4,256.5 L1065.1,255.7 L1065.7,254.9 L1066.3,254.1 L1067.0,253.4 L1067.6,252.6 L1068.3,251.8 L1068.9,251.1 L1069.5,250.3 L1070.2,249.6 L1070.8,248.9 L1071.5,248.1 L1072.1,247.4 L1072.7,246.7 L1073.4,246.0 L1074.0,245.3 L1074.7,244.6 L1075.3,243.9 L1076.0,243.2 L1076.6,242.6 L1077.2,241.9 L1077.9,241.2 L1078.5,240.6 L1079.2,239.9 L1079.8,239.3 L1080.4,238.6 L1080.9,238.2 L1083.0,238.5 L1086.2,239.0 L1089.4,239.4 L1092.6,239.9 L1095.8,240.3 L1099.0,240.8 L1102.2,241.2 L1105.4,241.6 L1108.6,242.1 L1111.9,242.5 L1115.1,242.9 L1118.3,243.3 L1121.5,243.7 L1124.7,244.2 L1127.9,244.6 L1131.1,245.0 L1134.3,245.4 L1137.5,245.8 L1140.7,246.1 L1143.9,246.5 L1147.1,246.9 L1150.3,247.3 L1153.5,247.7 L1156.7,248.0 L1159.9,248.4 L1163.1,248.8 L1166.3,249.1 L1169.6,249.5 L1172.8,249.9 L1176.0,250.2 L1179.2,250.6 L1182.4,250.9 L1185.6,251.2 L1188.8,251.6 L1192.0,251.9 L1195.2,252.3 L1198.4,252.6 L1201.6,252.9 L1204.8,253.2 L1208.0,253.6 L1211.2,253.9 L1211.2,253.9" fill="none" stroke="#111" stroke-width="1.0" stroke-linejoin="round"/>
<path d="M1030.0,287.3 L1043.1,287.3 L1043.3,287.2 L1043.5,287.1 L1043.7,286.9 L1043.9,286.8 L1044.1,286.7 L1044.3,286.5 L1044.5,286.4 L1044.8,286.2 L1045.0,286.1 L1045.2,286.0 L1045.4,285.8 L1045.6,285.7 L1045.8,285.6 L1046.0,285.4 L1046.2,285.3 L1046.5,285.1 L1046.7,285.0 L1046.9,284.9 L1047.1,284.7 L1047.3,284.6 L1047.5,284.5 L1047.7,284.3 L1048.0,284.2 L1048.2,284.0 L1048.4,283.9 L1048.6,283.8 L1048.8,283.6 L1049.0,283.5 L1049.2,283.4 L1049.5,283.2 L1049.7,283.1 L1050.3,282.7 L1050.9,282.3 L1051.6,281.9 L1052.2,281.5 L1052.9,281.1 L1053.5,280.7 L1054.2,280.3 L1054.8,280.0 L1055.4,279.6 L1056.1,279.2 L1056.7,278.8 L1057.4,278.4 L1058.0,278.1 L1058.6,277.7 L1059.3,277.3 L1059.9,276.9 L1060.6,276.6 L1061.2,276.2 L1061.8,275.9 L1062.5,275.5 L1063.1,275.1 L1063.8,274.8 L1064.4,274.4 L1065.1,274.1 L1065.7,273.7 L1066.3,273.4 L1067.0,273.0 L1067.6,272.7 L1068.3,272.3 L1068.9,272.0 L1069.5,271.6 L1070.2,271.3 L1070.8,271.0 L1071.5,270.6 L1072.1,270.3 L1072.7,270.0 L1073.4,269.6 L1074.0,269.3 L1074.7,269.0 L1075.3,268.7 L1076.0,268.3 L1076.6,268.0 L1077.2,267.7 L1077.9,267.4 L1078.5,267.1 L1079.2,266.7 L1079.8,266.4 L1080.4,266.1 L1080.9,265.9 L1083.0,266.0 L1086.2,266.2 L1089.4,266.4 L1092.6,266.6 L1095.8,266.8 L1099.0,267.0 L1102.2,267.1 L1105.4,267.3 L1108.6,267.5 L1111.9,267.7 L1115.1,267.8 L1118.3,268.0 L1121.5,268.2 L1124.7,268.4 L1127.9,268.5 L1131.1,268.7 L1134.3,268.8 L1137.5,269.0 L1140.7,269.2 L1143.9,269.3 L1147.1,269.5 L1150.3,269.6 L1153.5,269.8 L1156.7,270.0 L1159.9,270.1 L1163.1,270.3 L1166.3,270.4 L1169.6,270.6 L1172.8,270.7 L1176.0,270.9 L1179.2,271.0 L1182.4,271.1 L1185.6,271.3 L1188.8,271.4 L1192.0,271.6 L1195.2,271.7 L1198.4,271.8 L1201.6,272.0 L1204.8,272.1 L1208.0,272.2 L1211.2,272.4 L1211.2,272.4" fill="none" stroke="#d8383a" stroke-width="1.4" stroke-linejoin="round"/>
<path d="M1030.0,287.3 L1043.1,287.3 L1043.3,287.2 L1043.5,287.1 L1043.7,286.9 L1043.9,286.8 L1044.1,286.7 L1044.3,286.5 L1044.5,286.4 L1044.8,286.2 L1045.0,286.1 L1045.2,286.0 L1045.4,285.8 L1045.6,285.7 L1045.8,285.5 L1046.0,285.4 L1046.2,285.3 L1046.5,285.1 L1046.7,285.0 L1046.9,284.8 L1047.1,284.7 L1047.3,284.6 L1047.5,284.4 L1047.7,284.3 L1048.0,284.1 L1048.2,284.0 L1048.4,283.9 L1048.6,283.7 L1048.8,283.6 L1049.0,283.5 L1049.2,283.3 L1049.5,283.2 L1049.7,283.1 L1050.3,282.7 L1050.9,282.3 L1051.6,281.9 L1052.2,281.5 L1052.9,281.1 L1053.5,280.7 L1054.2,280.3 L1054.8,279.9 L1055.4,279.5 L1056.1,279.1 L1056.7,278.7 L1057.4,278.3 L1058.0,278.0 L1058.6,277.6 L1059.3,277.2 L1059.9,276.8 L1060.6,276.5 L1061.2,276.1 L1061.8,275.7 L1062.5,275.4 L1063.1,275.0 L1063.8,274.6 L1064.4,274.3 L1065.1,273.9 L1065.7,273.6 L1066.3,273.2 L1067.0,272.9 L1067.6,272.5 L1068.3,272.2 L1068.9,271.8 L1069.5,271.5 L1070.2,271.1 L1070.8,270.8 L1071.5,270.5 L1072.1,270.1 L1072.7,269.8 L1073.4,269.5 L1074.0,269.1 L1074.7,268.8 L1075.3,268.5 L1076.0,268.2 L1076.6,267.8 L1077.2,267.5 L1077.9,267.2 L1078.5,266.9 L1079.2,266.6 L1079.8,266.2 L1080.4,265.9 L1080.9,265.7 L1083.0,265.8 L1086.2,266.0 L1089.4,266.2 L1092.6,266.4 L1095.8,266.6 L1099.0,266.8 L1102.2,267.0 L1105.4,267.2 L1108.6,267.4 L1111.9,267.5 L1115.1,267.7 L1118.3,267.9 L1121.5,268.1 L1124.7,268.3 L1127.9,268.4 L1131.1,268.6 L1134.3,268.8 L1137.5,268.9 L1140.7,269.1 L1143.9,269.3 L1147.1,269.4 L1150.3,269.6 L1153.5,269.8 L1156.7,269.9 L1159.9,270.1 L1163.1,270.2 L1166.3,270.4 L1169.6,270.5 L1172.8,270.7 L1176.0,270.8 L1179.2,271.0 L1182.4,271.1 L1185.6,271.3 L1188.8,271.4 L1192.0,271.6 L1195.2,271.7 L1198.4,271.9 L1201.6,272.0 L1204.8,272.1 L1208.0,272.3 L1211.2,272.4 L1211.2,272.4" fill="none" stroke="#111" stroke-width="1.0" stroke-linejoin="round"/>
<path d="M1034.7,298.3 L1034.7,276.3" fill="none" stroke="#3aa845" stroke-width="1.6" stroke-linejoin="round"/>
<path d="M1033.9,285.7 L1035.6,285.7" fill="none" stroke="#3aa845" stroke-width="1.2" stroke-linejoin="round"/>
<path d="M1021.5,155.4 L1021.5,305.0 L1219.8,305.0" fill="none" stroke="#222" stroke-width="1.1"/>
<line x1="1018.0" y1="303.0" x2="1021.5" y2="303.0" stroke="#333" stroke-width="1"/>
<text x="1016.8" y="306.3" text-anchor="end" class="tk">-20</text>
<line x1="1018.0" y1="287.3" x2="1021.5" y2="287.3" stroke="#333" stroke-width="1"/>
<text x="1016.8" y="290.6" text-anchor="end" class="tk">0</text>
<line x1="1018.0" y1="271.6" x2="1021.5" y2="271.6" stroke="#333" stroke-width="1"/>
<text x="1016.8" y="274.9" text-anchor="end" class="tk">20</text>
<line x1="1018.0" y1="255.9" x2="1021.5" y2="255.9" stroke="#333" stroke-width="1"/>
<text x="1016.8" y="259.2" text-anchor="end" class="tk">40</text>
<line x1="1018.0" y1="240.2" x2="1021.5" y2="240.2" stroke="#333" stroke-width="1"/>
<text x="1016.8" y="243.5" text-anchor="end" class="tk">60</text>
<line x1="1018.0" y1="224.5" x2="1021.5" y2="224.5" stroke="#333" stroke-width="1"/>
<text x="1016.8" y="227.8" text-anchor="end" class="tk">80</text>
<line x1="1018.0" y1="208.7" x2="1021.5" y2="208.7" stroke="#333" stroke-width="1"/>
<text x="1016.8" y="212.0" text-anchor="end" class="tk">100</text>
<line x1="1018.0" y1="193.0" x2="1021.5" y2="193.0" stroke="#333" stroke-width="1"/>
<text x="1016.8" y="196.3" text-anchor="end" class="tk">120</text>
<line x1="1018.0" y1="177.3" x2="1021.5" y2="177.3" stroke="#333" stroke-width="1"/>
<text x="1016.8" y="180.6" text-anchor="end" class="tk">140</text>
<line x1="1018.0" y1="161.6" x2="1021.5" y2="161.6" stroke="#333" stroke-width="1"/>
<text x="1016.8" y="164.9" text-anchor="end" class="tk">160</text>
<line x1="1042.4" y1="305.0" x2="1042.4" y2="308.5" stroke="#333" stroke-width="1"/>
<text x="1042.4" y="318.9" text-anchor="middle" class="tk">0</text>
<line x1="1063.8" y1="305.0" x2="1063.8" y2="308.5" stroke="#333" stroke-width="1"/>
<text x="1063.8" y="318.9" text-anchor="middle" class="tk">100</text>
<line x1="1085.1" y1="305.0" x2="1085.1" y2="308.5" stroke="#333" stroke-width="1"/>
<text x="1085.1" y="318.9" text-anchor="middle" class="tk">200</text>
<line x1="1106.5" y1="305.0" x2="1106.5" y2="308.5" stroke="#333" stroke-width="1"/>
<text x="1106.5" y="318.9" text-anchor="middle" class="tk">300</text>
<line x1="1127.9" y1="305.0" x2="1127.9" y2="308.5" stroke="#333" stroke-width="1"/>
<text x="1127.9" y="318.9" text-anchor="middle" class="tk">400</text>
<line x1="1149.2" y1="305.0" x2="1149.2" y2="308.5" stroke="#333" stroke-width="1"/>
<text x="1149.2" y="318.9" text-anchor="middle" class="tk">500</text>
<line x1="1170.6" y1="305.0" x2="1170.6" y2="308.5" stroke="#333" stroke-width="1"/>
<text x="1170.6" y="318.9" text-anchor="middle" class="tk">600</text>
<line x1="1192.0" y1="305.0" x2="1192.0" y2="308.5" stroke="#333" stroke-width="1"/>
<text x="1192.0" y="318.9" text-anchor="middle" class="tk">700</text>
<line x1="1213.4" y1="305.0" x2="1213.4" y2="308.5" stroke="#333" stroke-width="1"/>
<text x="1213.4" y="318.9" text-anchor="middle" class="tk">800</text>
<text x="1127.9" y="331.5" text-anchor="middle" class="tl">Time (s)</text>
<text transform="translate(997.0,229) rotate(-90)" text-anchor="middle" class="tl">Response (RU)</text>
<path d="M1273.0,256.1 L1286.6,256.1 L1286.7,255.4 L1286.9,253.9 L1287.1,252.5 L1287.3,251.1 L1287.5,249.8 L1287.8,248.4 L1288.0,247.1 L1288.2,245.8 L1288.4,244.5 L1288.6,243.3 L1288.8,242.0 L1289.0,240.8 L1289.3,239.6 L1289.5,238.4 L1289.7,237.2 L1289.9,236.1 L1290.1,235.0 L1290.3,233.9 L1290.6,232.8 L1290.8,231.7 L1291.0,230.6 L1291.2,229.6 L1291.4,228.6 L1291.6,227.6 L1291.8,226.6 L1292.1,225.6 L1292.3,224.6 L1292.5,223.7 L1292.7,222.8 L1292.9,221.8 L1293.1,220.9 L1293.8,218.3 L1294.4,215.8 L1295.1,213.4 L1295.7,211.2 L1296.4,209.0 L1297.0,206.9 L1297.6,205.0 L1298.3,203.1 L1298.9,201.3 L1299.6,199.6 L1300.2,198.0 L1300.9,196.5 L1301.5,195.0 L1302.2,193.6 L1302.8,192.2 L1303.5,191.0 L1304.1,189.8 L1304.7,188.6 L1305.4,187.5 L1306.0,186.4 L1306.7,185.4 L1307.3,184.5 L1308.0,183.6 L1308.6,182.7 L1309.3,181.9 L1309.9,181.1 L1310.5,180.3 L1311.2,179.6 L1311.8,178.9 L1312.5,178.3 L1313.1,177.7 L1313.8,177.1 L1314.4,176.5 L1315.1,176.0 L1315.7,175.5 L1316.4,175.0 L1317.0,174.5 L1317.6,174.1 L1318.3,173.6 L1318.9,173.2 L1319.6,172.8 L1320.2,172.5 L1320.9,172.1 L1321.5,171.8 L1322.2,171.5 L1322.8,171.2 L1323.4,170.9 L1324.1,170.6 L1324.2,170.6 L1326.3,171.3 L1329.6,172.4 L1332.8,173.5 L1336.0,174.6 L1339.2,175.6 L1342.5,176.7 L1345.7,177.7 L1348.9,178.7 L1352.2,179.7 L1355.4,180.7 L1358.6,181.7 L1361.8,182.7 L1365.0,183.6 L1368.3,184.5 L1371.5,185.5 L1374.7,186.4 L1378.0,187.3 L1381.2,188.2 L1384.4,189.1 L1387.6,189.9 L1390.8,190.8 L1394.1,191.6 L1397.3,192.5 L1400.5,193.3 L1403.8,194.1 L1407.0,194.9 L1410.2,195.7 L1413.4,196.5 L1416.7,197.3 L1419.9,198.0 L1423.1,198.8 L1426.3,199.5 L1429.5,200.3 L1432.8,201.0 L1436.0,201.7 L1439.2,202.4 L1442.5,203.1 L1445.7,203.8 L1448.9,204.5 L1452.1,205.1 L1455.3,205.8 L1455.3,205.8" fill="none" stroke="#f07a2a" stroke-width="1.4" stroke-linejoin="round"/>
<path d="M1273.0,256.1 L1286.6,256.1 L1286.7,255.2 L1286.9,253.5 L1287.1,251.7 L1287.3,250.0 L1287.5,248.4 L1287.8,246.8 L1288.0,245.2 L1288.2,243.6 L1288.4,242.1 L1288.6,240.6 L1288.8,239.1 L1289.0,237.7 L1289.3,236.3 L1289.5,234.9 L1289.7,233.6 L1289.9,232.2 L1290.1,230.9 L1290.3,229.7 L1290.6,228.4 L1290.8,227.2 L1291.0,226.0 L1291.2,224.8 L1291.4,223.7 L1291.6,222.5 L1291.8,221.4 L1292.1,220.3 L1292.3,219.3 L1292.5,218.2 L1292.7,217.2 L1292.9,216.2 L1293.1,215.2 L1293.8,212.4 L1294.4,209.7 L1295.1,207.2 L1295.7,204.8 L1296.4,202.6 L1297.0,200.5 L1297.6,198.5 L1298.3,196.7 L1298.9,194.9 L1299.6,193.3 L1300.2,191.7 L1300.9,190.3 L1301.5,188.9 L1302.2,187.6 L1302.8,186.4 L1303.5,185.2 L1304.1,184.1 L1304.7,183.1 L1305.4,182.1 L1306.0,181.2 L1306.7,180.4 L1307.3,179.6 L1308.0,178.8 L1308.6,178.1 L1309.3,177.4 L1309.9,176.8 L1310.5,176.2 L1311.2,175.6 L1311.8,175.1 L1312.5,174.6 L1313.1,174.1 L1313.8,173.7 L1314.4,173.3 L1315.1,172.9 L1315.7,172.5 L1316.4,172.2 L1317.0,171.9 L1317.6,171.6 L1318.3,171.3 L1318.9,171.0 L1319.6,170.7 L1320.2,170.5 L1320.9,170.3 L1321.5,170.0 L1322.2,169.8 L1322.8,169.7 L1323.4,169.5 L1324.1,169.3 L1324.2,169.3 L1326.3,170.0 L1329.6,171.1 L1332.8,172.2 L1336.0,173.3 L1339.2,174.4 L1342.5,175.5 L1345.7,176.5 L1348.9,177.5 L1352.2,178.6 L1355.4,179.6 L1358.6,180.6 L1361.8,181.5 L1365.0,182.5 L1368.3,183.5 L1371.5,184.4 L1374.7,185.3 L1378.0,186.3 L1381.2,187.2 L1384.4,188.1 L1387.6,188.9 L1390.8,189.8 L1394.1,190.7 L1397.3,191.5 L1400.5,192.3 L1403.8,193.2 L1407.0,194.0 L1410.2,194.8 L1413.4,195.6 L1416.7,196.4 L1419.9,197.2 L1423.1,197.9 L1426.3,198.7 L1429.5,199.4 L1432.8,200.1 L1436.0,200.9 L1439.2,201.6 L1442.5,202.3 L1445.7,203.0 L1448.9,203.7 L1452.1,204.4 L1455.3,205.0 L1455.3,205.0" fill="none" stroke="#111" stroke-width="1.0" stroke-linejoin="round"/>
<path d="M1273.0,256.1 L1286.6,256.1 L1286.7,255.7 L1286.9,255.0 L1287.1,254.3 L1287.3,253.7 L1287.5,253.0 L1287.8,252.3 L1288.0,251.6 L1288.2,251.0 L1288.4,250.3 L1288.6,249.7 L1288.8,249.0 L1289.0,248.4 L1289.3,247.7 L1289.5,247.1 L1289.7,246.5 L1289.9,245.9 L1290.1,245.3 L1290.3,244.7 L1290.6,244.1 L1290.8,243.5 L1291.0,242.9 L1291.2,242.3 L1291.4,241.7 L1291.6,241.2 L1291.8,240.6 L1292.1,240.1 L1292.3,239.5 L1292.5,239.0 L1292.7,238.4 L1292.9,237.9 L1293.1,237.4 L1293.8,235.8 L1294.4,234.3 L1295.1,232.8 L1295.7,231.4 L1296.4,230.0 L1297.0,228.7 L1297.6,227.3 L1298.3,226.1 L1298.9,224.8 L1299.6,223.7 L1300.2,222.5 L1300.9,221.4 L1301.5,220.3 L1302.2,219.2 L1302.8,218.2 L1303.5,217.2 L1304.1,216.2 L1304.7,215.2 L1305.4,214.3 L1306.0,213.4 L1306.7,212.6 L1307.3,211.7 L1308.0,210.9 L1308.6,210.1 L1309.3,209.4 L1309.9,208.6 L1310.5,207.9 L1311.2,207.2 L1311.8,206.5 L1312.5,205.8 L1313.1,205.2 L1313.8,204.6 L1314.4,203.9 L1315.1,203.4 L1315.7,202.8 L1316.4,202.2 L1317.0,201.7 L1317.6,201.2 L1318.3,200.6 L1318.9,200.2 L1319.6,199.7 L1320.2,199.2 L1320.9,198.8 L1321.5,198.3 L1322.2,197.9 L1322.8,197.5 L1323.4,197.1 L1324.1,196.7 L1324.2,196.6 L1326.3,197.1 L1329.6,197.9 L1332.8,198.7 L1336.0,199.5 L1339.2,200.2 L1342.5,201.0 L1345.7,201.7 L1348.9,202.5 L1352.2,203.2 L1355.4,203.9 L1358.6,204.6 L1361.8,205.3 L1365.0,206.0 L1368.3,206.6 L1371.5,207.3 L1374.7,208.0 L1378.0,208.6 L1381.2,209.2 L1384.4,209.9 L1387.6,210.5 L1390.8,211.1 L1394.1,211.7 L1397.3,212.3 L1400.5,212.9 L1403.8,213.5 L1407.0,214.0 L1410.2,214.6 L1413.4,215.2 L1416.7,215.7 L1419.9,216.2 L1423.1,216.8 L1426.3,217.3 L1429.5,217.8 L1432.8,218.3 L1436.0,218.8 L1439.2,219.3 L1442.5,219.8 L1445.7,220.3 L1448.9,220.8 L1452.1,221.3 L1455.3,221.7 L1455.3,221.7" fill="none" stroke="#3aa845" stroke-width="1.4" stroke-linejoin="round"/>
<path d="M1273.0,256.1 L1286.6,256.1 L1286.7,255.7 L1286.9,255.0 L1287.1,254.3 L1287.3,253.6 L1287.5,252.8 L1287.8,252.1 L1288.0,251.4 L1288.2,250.7 L1288.4,250.1 L1288.6,249.4 L1288.8,248.7 L1289.0,248.1 L1289.3,247.4 L1289.5,246.7 L1289.7,246.1 L1289.9,245.5 L1290.1,244.8 L1290.3,244.2 L1290.6,243.6 L1290.8,243.0 L1291.0,242.4 L1291.2,241.8 L1291.4,241.2 L1291.6,240.6 L1291.8,240.0 L1292.1,239.4 L1292.3,238.9 L1292.5,238.3 L1292.7,237.7 L1292.9,237.2 L1293.1,236.6 L1293.8,235.0 L1294.4,233.4 L1295.1,231.9 L1295.7,230.4 L1296.4,229.0 L1297.0,227.6 L1297.6,226.3 L1298.3,225.0 L1298.9,223.7 L1299.6,222.5 L1300.2,221.3 L1300.9,220.1 L1301.5,219.0 L1302.2,217.9 L1302.8,216.8 L1303.5,215.8 L1304.1,214.8 L1304.7,213.8 L1305.4,212.9 L1306.0,212.0 L1306.7,211.1 L1307.3,210.2 L1308.0,209.4 L1308.6,208.6 L1309.3,207.8 L1309.9,207.0 L1310.5,206.3 L1311.2,205.6 L1311.8,204.9 L1312.5,204.2 L1313.1,203.6 L1313.8,202.9 L1314.4,202.3 L1315.1,201.7 L1315.7,201.1 L1316.4,200.6 L1317.0,200.0 L1317.6,199.5 L1318.3,199.0 L1318.9,198.5 L1319.6,198.0 L1320.2,197.5 L1320.9,197.0 L1321.5,196.6 L1322.2,196.2 L1322.8,195.8 L1323.4,195.3 L1324.1,195.0 L1324.2,194.9 L1326.3,195.4 L1329.6,196.2 L1332.8,197.0 L1336.0,197.8 L1339.2,198.5 L1342.5,199.3 L1345.7,200.0 L1348.9,200.8 L1352.2,201.5 L1355.4,202.2 L1358.6,202.9 L1361.8,203.6 L1365.0,204.3 L1368.3,205.0 L1371.5,205.7 L1374.7,206.3 L1378.0,207.0 L1381.2,207.6 L1384.4,208.3 L1387.6,208.9 L1390.8,209.5 L1394.1,210.1 L1397.3,210.7 L1400.5,211.3 L1403.8,211.9 L1407.0,212.5 L1410.2,213.0 L1413.4,213.6 L1416.7,214.2 L1419.9,214.7 L1423.1,215.3 L1426.3,215.8 L1429.5,216.3 L1432.8,216.8 L1436.0,217.4 L1439.2,217.9 L1442.5,218.4 L1445.7,218.9 L1448.9,219.4 L1452.1,219.8 L1455.3,220.3 L1455.3,220.3" fill="none" stroke="#111" stroke-width="1.0" stroke-linejoin="round"/>
<path d="M1273.0,256.1 L1286.6,256.1 L1286.7,255.7 L1286.9,255.0 L1287.1,254.3 L1287.3,253.5 L1287.5,252.8 L1287.8,252.1 L1288.0,251.4 L1288.2,250.7 L1288.4,250.1 L1288.6,249.4 L1288.8,248.7 L1289.0,248.0 L1289.3,247.4 L1289.5,246.7 L1289.7,246.1 L1289.9,245.4 L1290.1,244.8 L1290.3,244.2 L1290.6,243.6 L1290.8,242.9 L1291.0,242.3 L1291.2,241.7 L1291.4,241.1 L1291.6,240.5 L1291.8,240.0 L1292.1,239.4 L1292.3,238.8 L1292.5,238.2 L1292.7,237.7 L1292.9,237.1 L1293.1,236.6 L1293.8,234.9 L1294.4,233.4 L1295.1,231.8 L1295.7,230.3 L1296.4,228.9 L1297.0,227.5 L1297.6,226.1 L1298.3,224.8 L1298.9,223.5 L1299.6,222.3 L1300.2,221.1 L1300.9,219.9 L1301.5,218.7 L1302.2,217.6 L1302.8,216.6 L1303.5,215.5 L1304.1,214.5 L1304.7,213.5 L1305.4,212.6 L1306.0,211.6 L1306.7,210.7 L1307.3,209.8 L1308.0,209.0 L1308.6,208.2 L1309.3,207.4 L1309.9,206.6 L1310.5,205.8 L1311.2,205.1 L1311.8,204.4 L1312.5,203.7 L1313.1,203.0 L1313.8,202.4 L1314.4,201.7 L1315.1,201.1 L1315.7,200.5 L1316.4,199.9 L1317.0,199.4 L1317.6,198.8 L1318.3,198.3 L1318.9,197.8 L1319.6,197.3 L1320.2,196.8 L1320.9,196.3 L1321.5,195.9 L1322.2,195.4 L1322.8,195.0 L1323.4,194.6 L1324.1,194.1 L1324.2,194.1 L1326.3,194.6 L1329.6,195.4 L1332.8,196.2 L1336.0,197.0 L1339.2,197.7 L1342.5,198.5 L1345.7,199.2 L1348.9,200.0 L1352.2,200.7 L1355.4,201.4 L1358.6,202.1 L1361.8,202.8 L1365.0,203.5 L1368.3,204.2 L1371.5,204.9 L1374.7,205.5 L1378.0,206.2 L1381.2,206.8 L1384.4,207.5 L1387.6,208.1 L1390.8,208.7 L1394.1,209.4 L1397.3,210.0 L1400.5,210.6 L1403.8,211.1 L1407.0,211.7 L1410.2,212.3 L1413.4,212.9 L1416.7,213.4 L1419.9,214.0 L1423.1,214.5 L1426.3,215.1 L1429.5,215.6 L1432.8,216.1 L1436.0,216.6 L1439.2,217.2 L1442.5,217.7 L1445.7,218.2 L1448.9,218.7 L1452.1,219.1 L1455.3,219.6 L1455.3,219.6" fill="none" stroke="#111" stroke-width="1.0" stroke-linejoin="round"/>
<path d="M1273.0,256.1 L1286.6,256.1 L1286.7,256.0 L1286.9,255.7 L1287.1,255.4 L1287.3,255.1 L1287.5,254.9 L1287.8,254.6 L1288.0,254.3 L1288.2,254.1 L1288.4,253.8 L1288.6,253.5 L1288.8,253.3 L1289.0,253.0 L1289.3,252.7 L1289.5,252.5 L1289.7,252.2 L1289.9,251.9 L1290.1,251.7 L1290.3,251.4 L1290.6,251.2 L1290.8,250.9 L1291.0,250.7 L1291.2,250.4 L1291.4,250.2 L1291.6,249.9 L1291.8,249.7 L1292.1,249.4 L1292.3,249.2 L1292.5,248.9 L1292.7,248.7 L1292.9,248.4 L1293.1,248.2 L1293.8,247.5 L1294.4,246.7 L1295.1,246.0 L1295.7,245.4 L1296.4,244.7 L1297.0,244.0 L1297.6,243.3 L1298.3,242.7 L1298.9,242.0 L1299.6,241.4 L1300.2,240.8 L1300.9,240.1 L1301.5,239.5 L1302.2,238.9 L1302.8,238.3 L1303.5,237.7 L1304.1,237.1 L1304.7,236.6 L1305.4,236.0 L1306.0,235.4 L1306.7,234.9 L1307.3,234.4 L1308.0,233.8 L1308.6,233.3 L1309.3,232.8 L1309.9,232.2 L1310.5,231.7 L1311.2,231.2 L1311.8,230.7 L1312.5,230.3 L1313.1,229.8 L1313.8,229.3 L1314.4,228.8 L1315.1,228.4 L1315.7,227.9 L1316.4,227.5 L1317.0,227.0 L1317.6,226.6 L1318.3,226.2 L1318.9,225.7 L1319.6,225.3 L1320.2,224.9 L1320.9,224.5 L1321.5,224.1 L1322.2,223.7 L1322.8,223.3 L1323.4,222.9 L1324.1,222.5 L1324.2,222.5 L1326.3,222.7 L1329.6,223.2 L1332.8,223.6 L1336.0,224.0 L1339.2,224.4 L1342.5,224.8 L1345.7,225.2 L1348.9,225.6 L1352.2,226.0 L1355.4,226.4 L1358.6,226.8 L1361.8,227.2 L1365.0,227.5 L1368.3,227.9 L1371.5,228.3 L1374.7,228.6 L1378.0,229.0 L1381.2,229.3 L1384.4,229.7 L1387.6,230.0 L1390.8,230.3 L1394.1,230.7 L1397.3,231.0 L1400.5,231.3 L1403.8,231.6 L1407.0,231.9 L1410.2,232.2 L1413.4,232.6 L1416.7,232.9 L1419.9,233.2 L1423.1,233.4 L1426.3,233.7 L1429.5,234.0 L1432.8,234.3 L1436.0,234.6 L1439.2,234.9 L1442.5,235.1 L1445.7,235.4 L1448.9,235.7 L1452.1,235.9 L1455.3,236.2 L1455.3,236.2" fill="none" stroke="#2f7cc4" stroke-width="1.4" stroke-linejoin="round"/>
<path d="M1273.0,256.1 L1286.6,256.1 L1286.7,256.0 L1286.9,255.7 L1287.1,255.4 L1287.3,255.1 L1287.5,254.8 L1287.8,254.6 L1288.0,254.3 L1288.2,254.0 L1288.4,253.7 L1288.6,253.5 L1288.8,253.2 L1289.0,252.9 L1289.3,252.7 L1289.5,252.4 L1289.7,252.1 L1289.9,251.9 L1290.1,251.6 L1290.3,251.3 L1290.6,251.1 L1290.8,250.8 L1291.0,250.5 L1291.2,250.3 L1291.4,250.0 L1291.6,249.8 L1291.8,249.5 L1292.1,249.3 L1292.3,249.0 L1292.5,248.8 L1292.7,248.5 L1292.9,248.3 L1293.1,248.0 L1293.8,247.3 L1294.4,246.6 L1295.1,245.8 L1295.7,245.1 L1296.4,244.4 L1297.0,243.8 L1297.6,243.1 L1298.3,242.4 L1298.9,241.8 L1299.6,241.1 L1300.2,240.5 L1300.9,239.8 L1301.5,239.2 L1302.2,238.6 L1302.8,238.0 L1303.5,237.4 L1304.1,236.8 L1304.7,236.2 L1305.4,235.6 L1306.0,235.1 L1306.7,234.5 L1307.3,234.0 L1308.0,233.4 L1308.6,232.9 L1309.3,232.4 L1309.9,231.8 L1310.5,231.3 L1311.2,230.8 L1311.8,230.3 L1312.5,229.8 L1313.1,229.3 L1313.8,228.9 L1314.4,228.4 L1315.1,227.9 L1315.7,227.5 L1316.4,227.0 L1317.0,226.6 L1317.6,226.1 L1318.3,225.7 L1318.9,225.3 L1319.6,224.8 L1320.2,224.4 L1320.9,224.0 L1321.5,223.6 L1322.2,223.2 L1322.8,222.8 L1323.4,222.4 L1324.1,222.0 L1324.2,222.0 L1326.3,222.3 L1329.6,222.7 L1332.8,223.1 L1336.0,223.5 L1339.2,224.0 L1342.5,224.4 L1345.7,224.8 L1348.9,225.2 L1352.2,225.6 L1355.4,226.0 L1358.6,226.4 L1361.8,226.7 L1365.0,227.1 L1368.3,227.5 L1371.5,227.8 L1374.7,228.2 L1378.0,228.6 L1381.2,228.9 L1384.4,229.3 L1387.6,229.6 L1390.8,230.0 L1394.1,230.3 L1397.3,230.6 L1400.5,230.9 L1403.8,231.3 L1407.0,231.6 L1410.2,231.9 L1413.4,232.2 L1416.7,232.5 L1419.9,232.8 L1423.1,233.1 L1426.3,233.4 L1429.5,233.7 L1432.8,234.0 L1436.0,234.3 L1439.2,234.6 L1442.5,234.8 L1445.7,235.1 L1448.9,235.4 L1452.1,235.6 L1455.3,235.9 L1455.3,235.9" fill="none" stroke="#111" stroke-width="1.0" stroke-linejoin="round"/>
<path d="M1273.0,256.1 L1286.6,256.1 L1286.7,256.0 L1286.9,255.9 L1287.1,255.8 L1287.3,255.7 L1287.5,255.6 L1287.8,255.5 L1288.0,255.4 L1288.2,255.3 L1288.4,255.2 L1288.6,255.1 L1288.8,255.0 L1289.0,254.8 L1289.3,254.7 L1289.5,254.6 L1289.7,254.5 L1289.9,254.4 L1290.1,254.3 L1290.3,254.2 L1290.6,254.1 L1290.8,254.0 L1291.0,253.9 L1291.2,253.8 L1291.4,253.7 L1291.6,253.6 L1291.8,253.5 L1292.1,253.4 L1292.3,253.3 L1292.5,253.2 L1292.7,253.1 L1292.9,253.0 L1293.1,252.9 L1293.8,252.6 L1294.4,252.3 L1295.1,252.0 L1295.7,251.7 L1296.4,251.4 L1297.0,251.2 L1297.6,250.9 L1298.3,250.6 L1298.9,250.3 L1299.6,250.1 L1300.2,249.8 L1300.9,249.5 L1301.5,249.3 L1302.2,249.0 L1302.8,248.8 L1303.5,248.5 L1304.1,248.3 L1304.7,248.0 L1305.4,247.8 L1306.0,247.5 L1306.7,247.3 L1307.3,247.0 L1308.0,246.8 L1308.6,246.6 L1309.3,246.3 L1309.9,246.1 L1310.5,245.9 L1311.2,245.7 L1311.8,245.5 L1312.5,245.2 L1313.1,245.0 L1313.8,244.8 L1314.4,244.6 L1315.1,244.4 L1315.7,244.2 L1316.4,244.0 L1317.0,243.8 L1317.6,243.6 L1318.3,243.4 L1318.9,243.2 L1319.6,243.0 L1320.2,242.8 L1320.9,242.6 L1321.5,242.4 L1322.2,242.2 L1322.8,242.1 L1323.4,241.9 L1324.1,241.7 L1324.2,241.7 L1326.3,241.8 L1329.6,241.9 L1332.8,242.1 L1336.0,242.3 L1339.2,242.4 L1342.5,242.6 L1345.7,242.7 L1348.9,242.9 L1352.2,243.0 L1355.4,243.2 L1358.6,243.3 L1361.8,243.5 L1365.0,243.6 L1368.3,243.8 L1371.5,243.9 L1374.7,244.1 L1378.0,244.2 L1381.2,244.3 L1384.4,244.5 L1387.6,244.6 L1390.8,244.7 L1394.1,244.9 L1397.3,245.0 L1400.5,245.1 L1403.8,245.2 L1407.0,245.4 L1410.2,245.5 L1413.4,245.6 L1416.7,245.7 L1419.9,245.9 L1423.1,246.0 L1426.3,246.1 L1429.5,246.2 L1432.8,246.3 L1436.0,246.4 L1439.2,246.5 L1442.5,246.7 L1445.7,246.8 L1448.9,246.9 L1452.1,247.0 L1455.3,247.1 L1455.3,247.1" fill="none" stroke="#d8383a" stroke-width="1.4" stroke-linejoin="round"/>
<path d="M1273.0,256.1 L1286.6,256.1 L1286.7,256.0 L1286.9,255.9 L1287.1,255.8 L1287.3,255.7 L1287.5,255.6 L1287.8,255.5 L1288.0,255.4 L1288.2,255.3 L1288.4,255.2 L1288.6,255.1 L1288.8,255.0 L1289.0,254.8 L1289.3,254.7 L1289.5,254.6 L1289.7,254.5 L1289.9,254.4 L1290.1,254.3 L1290.3,254.2 L1290.6,254.1 L1290.8,254.0 L1291.0,253.9 L1291.2,253.8 L1291.4,253.7 L1291.6,253.6 L1291.8,253.5 L1292.1,253.4 L1292.3,253.3 L1292.5,253.2 L1292.7,253.1 L1292.9,253.0 L1293.1,252.9 L1293.8,252.6 L1294.4,252.3 L1295.1,252.0 L1295.7,251.7 L1296.4,251.4 L1297.0,251.2 L1297.6,250.9 L1298.3,250.6 L1298.9,250.3 L1299.6,250.1 L1300.2,249.8 L1300.9,249.5 L1301.5,249.3 L1302.2,249.0 L1302.8,248.8 L1303.5,248.5 L1304.1,248.3 L1304.7,248.0 L1305.4,247.8 L1306.0,247.5 L1306.7,247.3 L1307.3,247.0 L1308.0,246.8 L1308.6,246.6 L1309.3,246.3 L1309.9,246.1 L1310.5,245.9 L1311.2,245.7 L1311.8,245.5 L1312.5,245.2 L1313.1,245.0 L1313.8,244.8 L1314.4,244.6 L1315.1,244.4 L1315.7,244.2 L1316.4,244.0 L1317.0,243.8 L1317.6,243.6 L1318.3,243.4 L1318.9,243.2 L1319.6,243.0 L1320.2,242.8 L1320.9,242.6 L1321.5,242.4 L1322.2,242.2 L1322.8,242.1 L1323.4,241.9 L1324.1,241.7 L1324.2,241.7 L1326.3,241.8 L1329.6,242.0 L1332.8,242.2 L1336.0,242.3 L1339.2,242.5 L1342.5,242.7 L1345.7,242.8 L1348.9,243.0 L1352.2,243.2 L1355.4,243.3 L1358.6,243.5 L1361.8,243.7 L1365.0,243.8 L1368.3,244.0 L1371.5,244.1 L1374.7,244.3 L1378.0,244.4 L1381.2,244.6 L1384.4,244.7 L1387.6,244.9 L1390.8,245.0 L1394.1,245.2 L1397.3,245.3 L1400.5,245.4 L1403.8,245.6 L1407.0,245.7 L1410.2,245.8 L1413.4,246.0 L1416.7,246.1 L1419.9,246.2 L1423.1,246.3 L1426.3,246.5 L1429.5,246.6 L1432.8,246.7 L1436.0,246.8 L1439.2,246.9 L1442.5,247.1 L1445.7,247.2 L1448.9,247.3 L1452.1,247.4 L1455.3,247.5 L1455.3,247.5" fill="none" stroke="#111" stroke-width="1.0" stroke-linejoin="round"/>
<path d="M1276.5,256.1 L1277.1,265.4 L1277.5,223.7 L1278.0,297.8 L1278.4,265.4 L1278.8,256.1 L1284.4,256.1 L1284.9,265.4 L1285.3,249.9 L1285.5,256.1" fill="none" stroke="#f07a2a" stroke-width="1.3" stroke-linejoin="round"/>
<path d="M1276.9,256.1 L1277.3,240.7 L1277.8,262.3 L1278.4,240.7 L1279.0,256.1 L1279.7,246.8 L1280.3,259.2 L1281.2,253.0 L1283.8,256.1 L1284.2,239.1 L1284.6,256.1" fill="none" stroke="#3aa845" stroke-width="1.3" stroke-linejoin="round"/>
<path d="M1276.9,256.1 L1277.3,265.4 L1277.8,253.0 L1278.2,259.2" fill="none" stroke="#d8383a" stroke-width="1.2" stroke-linejoin="round"/>
<path d="M1324.2,169.7 L1324.2,161.0" fill="none" stroke="#f07a2a" stroke-width="1.3" stroke-linejoin="round"/>
<path d="M1324.2,197.4 L1324.2,190.3" fill="none" stroke="#3aa845" stroke-width="1.3" stroke-linejoin="round"/>
<path d="M1324.2,222.1 L1324.2,215.4" fill="none" stroke="#2f7cc4" stroke-width="1.3" stroke-linejoin="round"/>
<path d="M1324.2,241.3 L1324.2,235.7" fill="none" stroke="#d8383a" stroke-width="1.3" stroke-linejoin="round"/>
<path d="M1265.7,155.4 L1265.7,305.0 L1463.7,305.0" fill="none" stroke="#222" stroke-width="1.1"/>
<line x1="1262.2" y1="302.4" x2="1265.7" y2="302.4" stroke="#333" stroke-width="1"/>
<text x="1260.5" y="305.7" text-anchor="end" class="tk">-15</text>
<line x1="1262.2" y1="287.0" x2="1265.7" y2="287.0" stroke="#333" stroke-width="1"/>
<text x="1260.5" y="290.3" text-anchor="end" class="tk">-10</text>
<line x1="1262.2" y1="271.5" x2="1265.7" y2="271.5" stroke="#333" stroke-width="1"/>
<text x="1260.5" y="274.8" text-anchor="end" class="tk">-5</text>
<line x1="1262.2" y1="256.1" x2="1265.7" y2="256.1" stroke="#333" stroke-width="1"/>
<text x="1260.5" y="259.4" text-anchor="end" class="tk">0</text>
<line x1="1262.2" y1="240.7" x2="1265.7" y2="240.7" stroke="#333" stroke-width="1"/>
<text x="1260.5" y="244.0" text-anchor="end" class="tk">5</text>
<line x1="1262.2" y1="225.2" x2="1265.7" y2="225.2" stroke="#333" stroke-width="1"/>
<text x="1260.5" y="228.5" text-anchor="end" class="tk">10</text>
<line x1="1262.2" y1="209.8" x2="1265.7" y2="209.8" stroke="#333" stroke-width="1"/>
<text x="1260.5" y="213.1" text-anchor="end" class="tk">15</text>
<line x1="1262.2" y1="194.4" x2="1265.7" y2="194.4" stroke="#333" stroke-width="1"/>
<text x="1260.5" y="197.7" text-anchor="end" class="tk">20</text>
<line x1="1262.2" y1="178.9" x2="1265.7" y2="178.9" stroke="#333" stroke-width="1"/>
<text x="1260.5" y="182.2" text-anchor="end" class="tk">25</text>
<line x1="1262.2" y1="163.5" x2="1265.7" y2="163.5" stroke="#333" stroke-width="1"/>
<text x="1260.5" y="166.8" text-anchor="end" class="tk">30</text>
<line x1="1285.5" y1="305.0" x2="1285.5" y2="308.5" stroke="#333" stroke-width="1"/>
<text x="1285.5" y="318.9" text-anchor="middle" class="tk">0</text>
<line x1="1307.0" y1="305.0" x2="1307.0" y2="308.5" stroke="#333" stroke-width="1"/>
<text x="1307.0" y="318.9" text-anchor="middle" class="tk">100</text>
<line x1="1328.5" y1="305.0" x2="1328.5" y2="308.5" stroke="#333" stroke-width="1"/>
<text x="1328.5" y="318.9" text-anchor="middle" class="tk">200</text>
<line x1="1350.0" y1="305.0" x2="1350.0" y2="308.5" stroke="#333" stroke-width="1"/>
<text x="1350.0" y="318.9" text-anchor="middle" class="tk">300</text>
<line x1="1371.5" y1="305.0" x2="1371.5" y2="308.5" stroke="#333" stroke-width="1"/>
<text x="1371.5" y="318.9" text-anchor="middle" class="tk">400</text>
<line x1="1393.0" y1="305.0" x2="1393.0" y2="308.5" stroke="#333" stroke-width="1"/>
<text x="1393.0" y="318.9" text-anchor="middle" class="tk">500</text>
<line x1="1414.5" y1="305.0" x2="1414.5" y2="308.5" stroke="#333" stroke-width="1"/>
<text x="1414.5" y="318.9" text-anchor="middle" class="tk">600</text>
<line x1="1436.0" y1="305.0" x2="1436.0" y2="308.5" stroke="#333" stroke-width="1"/>
<text x="1436.0" y="318.9" text-anchor="middle" class="tk">700</text>
<line x1="1457.5" y1="305.0" x2="1457.5" y2="308.5" stroke="#333" stroke-width="1"/>
<text x="1457.5" y="318.9" text-anchor="middle" class="tk">800</text>
<text x="1371.5" y="331.5" text-anchor="middle" class="tl">Time (s)</text>
<text transform="translate(1244.6000000000001,229) rotate(-90)" text-anchor="middle" class="tl">Response (RU)</text>
</svg>
<!-- table -->
<div class="a" style="left:531px;top:365.8px;width:933.5px;height:1.8px;background:#5e5e5e"></div>
<div class="a" style="left:531px;top:480.9px;width:933.5px;height:1.8px;background:#5e5e5e"></div>
<div class="a" style="right:1001px;top:372px;font-size:15px;font-weight:bold;line-height:20px;">Ligand level (RU)</div>
<div class="a" style="right:1001px;top:401px;font-size:15px;font-weight:bold;line-height:20px;">k<sub style="font-size:9px">a</sub> (M<sup style="font-size:9px">-1</sup> s<sup style="font-size:9px">-1</sup>)</div>
<div class="a" style="right:1001px;top:430px;font-size:15px;font-weight:bold;line-height:20px;">k<sub style="font-size:9px">d</sub> (s<sup style="font-size:9px">-1</sup>)</div>
<div class="a" style="right:1001px;top:459px;font-size:15px;font-weight:bold;line-height:20px;">Chi<sup style="font-size:9px">2</sup>*</div>
<div class="a" style="left:532px;top:499px;font-size:14.5px;letter-spacing:0.37px;line-height:18px;">*Lower Chi<sup style="font-size:8.5px;top:-1px">2</sup> indicates improved data quality.</div>
<!-- caption -->
<div class="a cap" style="left:61px;top:557px;">
<b><span class="c">图</span> 3</b>. <span class="c">双价分析。二聚体蛋白分子量为</span> 660 000<span class="c">。二价结合带来的舞蹈效应随着配体密度的降低而降低，从而得到真实的动力学数据。数据由德国彭次贝</span><br><span class="c">格罗氏诊断的</span> Schraml, Biehl, von Proff <span class="c">惠赠。</span>
</div>
<div class="a tv" style="left:537px;width:200px;text-align:center;top:372px;">373</div>
<div class="a tv" style="left:781px;width:200px;text-align:center;top:372px;">169</div>
<div class="a tv" style="left:1022px;width:200px;text-align:center;top:372px;">33.7</div>
<div class="a tv" style="left:1263.6px;width:200px;text-align:center;top:372px;">3.4</div>
<div class="a tv" style="left:537px;width:200px;text-align:center;top:401px;">3.5 × 10<sup>5</sup></div>
<div class="a tv" style="left:781px;width:200px;text-align:center;top:401px;">3.3 × 10<sup>5</sup></div>
<div class="a tv" style="left:1022px;width:200px;text-align:center;top:401px;">2.6 × 10<sup>5</sup></div>
<div class="a tv" style="left:1263.6px;width:200px;text-align:center;top:401px;">1.9 × 10<sup>5</sup></div>
<div class="a tv" style="left:537px;width:200px;text-align:center;top:430px;">3.1 × 10<sup>-5</sup></div>
<div class="a tv" style="left:781px;width:200px;text-align:center;top:430px;">2.3 × 10<sup>-4</sup></div>
<div class="a tv" style="left:1022px;width:200px;text-align:center;top:430px;">6.7 × 10<sup>-4</sup></div>
<div class="a tv" style="left:1263.6px;width:200px;text-align:center;top:430px;">8.9 × 10<sup>-4</sup></div>
<div class="a tv" style="left:537px;width:200px;text-align:center;top:459px;">214</div>
<div class="a tv" style="left:781px;width:200px;text-align:center;top:459px;">56.1</div>
<div class="a tv" style="left:1022px;width:200px;text-align:center;top:459px;">2.2</div>
<div class="a tv" style="left:1263.6px;width:200px;text-align:center;top:459px;">0.12</div>
</body></html>
